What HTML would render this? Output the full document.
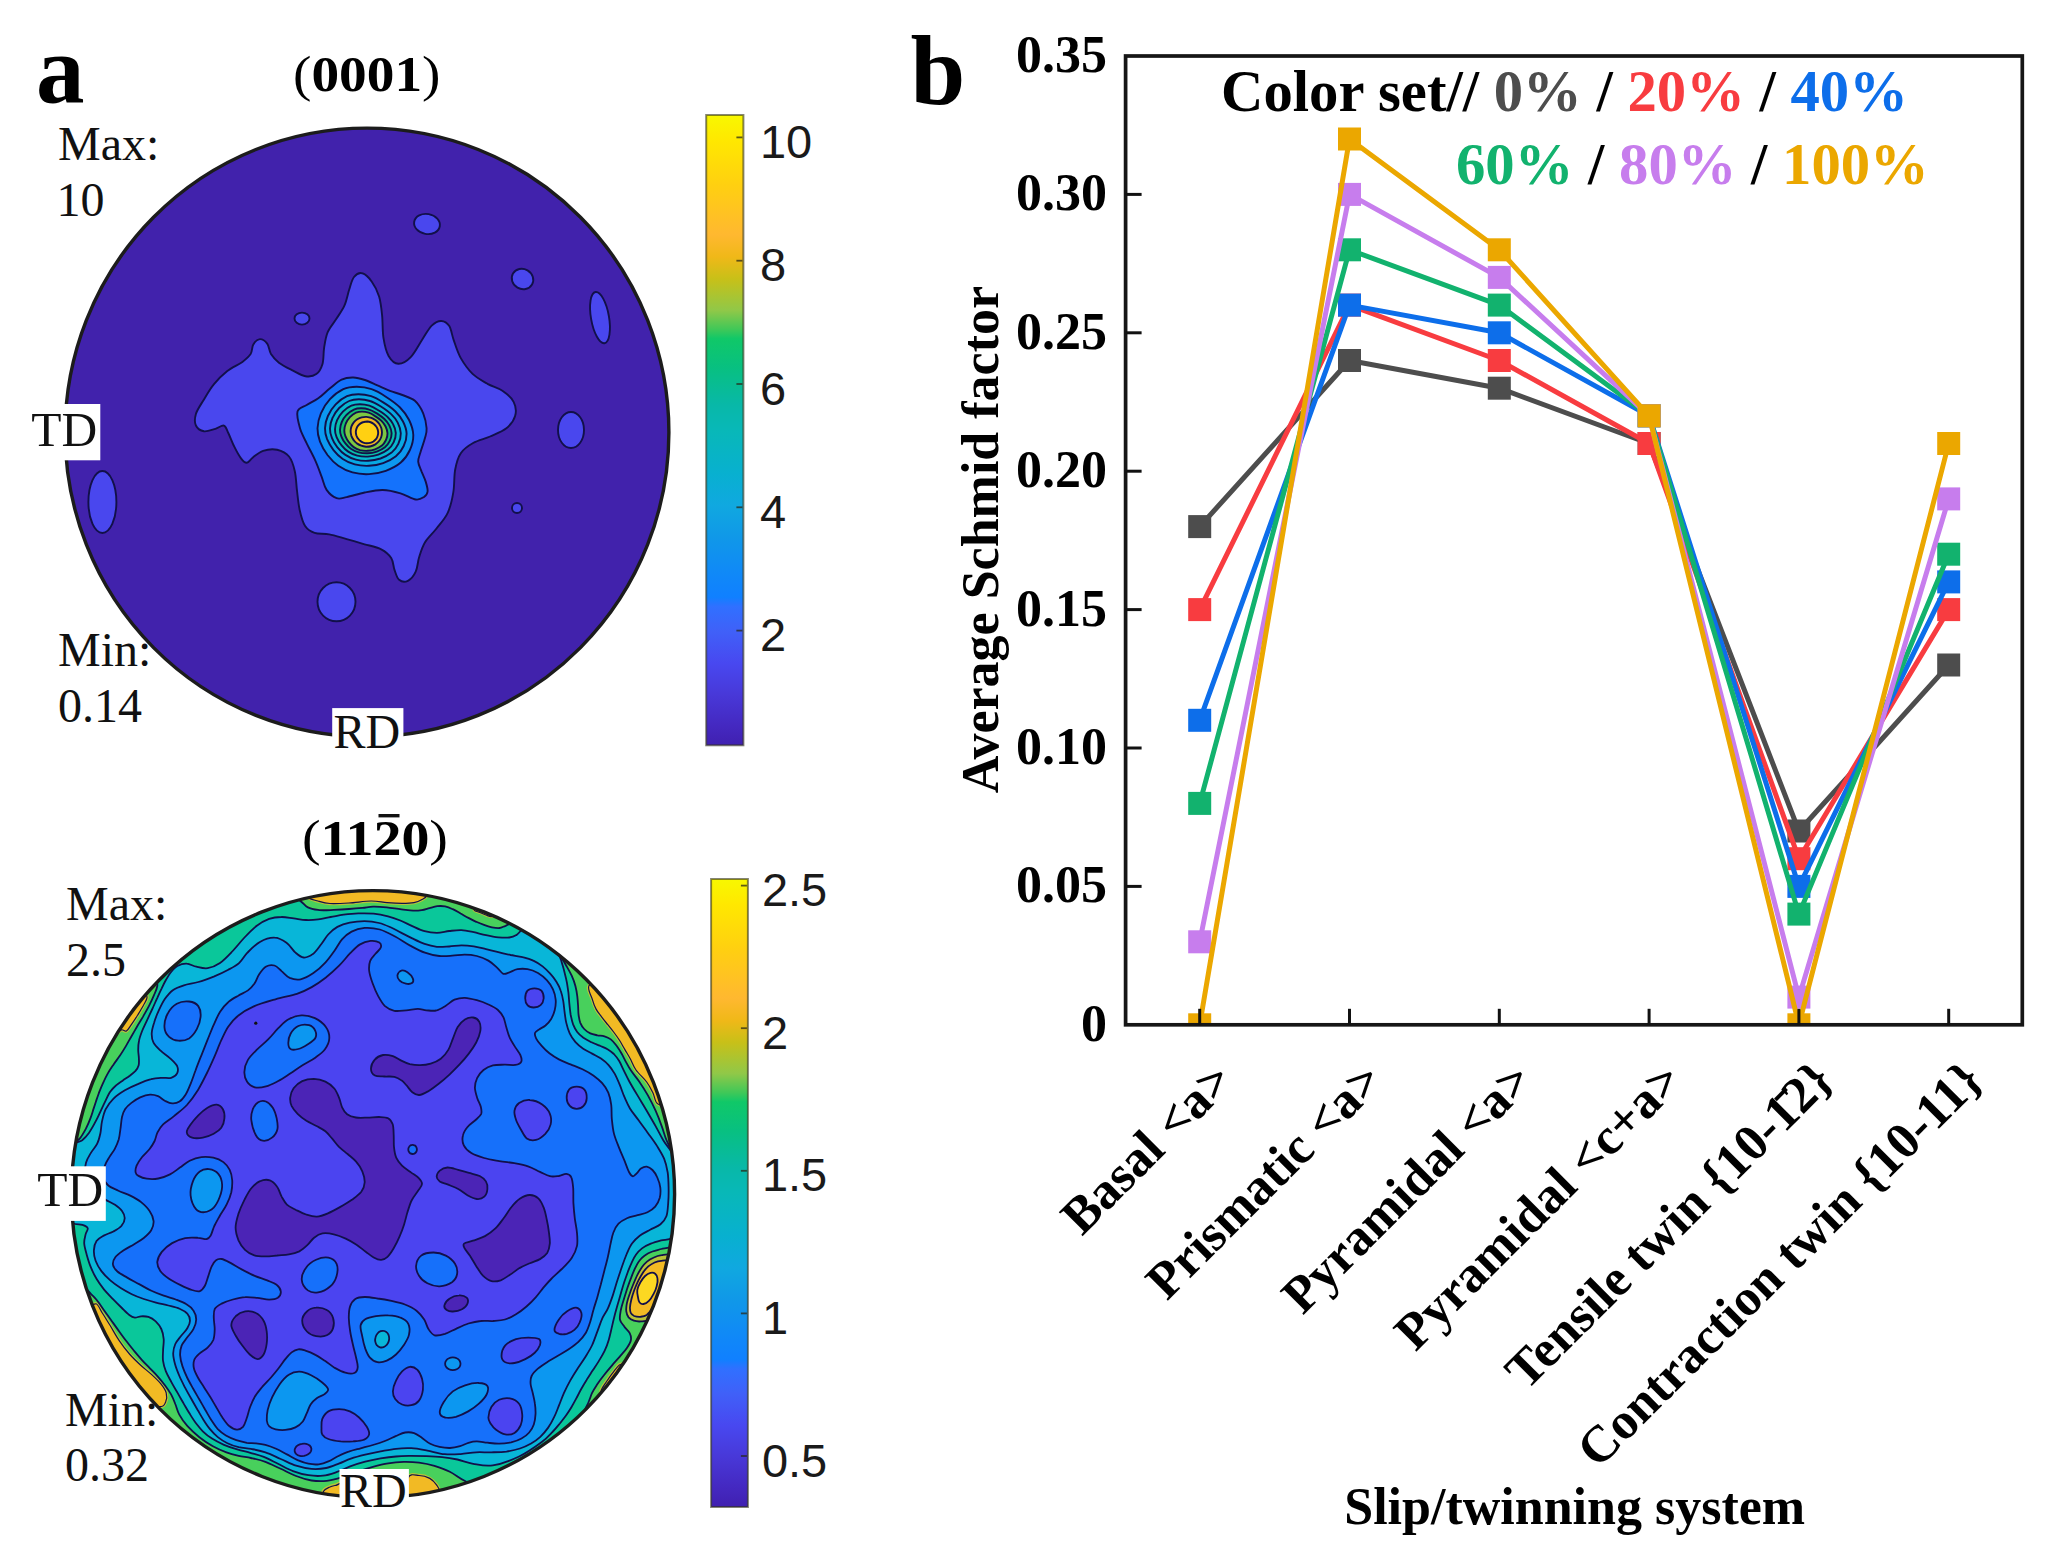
<!DOCTYPE html>
<html><head><meta charset="utf-8"><title>Figure</title>
<style>
html,body{margin:0;padding:0;background:#fff;}
svg{display:block}
.sb{font-family:"Liberation Serif",serif;font-weight:bold;fill:#000}
.sr{font-family:"Liberation Serif",serif;fill:#111}
.ss{font-family:"Liberation Sans",sans-serif;fill:#1a1a1a}
</style></head><body>
<svg width="2056" height="1562" viewBox="0 0 2056 1562">
<defs>
<linearGradient id="par" x1="0" y1="1" x2="0" y2="0">
<stop offset="0.000" stop-color="#4020b0"/>
<stop offset="0.030" stop-color="#4428c0"/>
<stop offset="0.080" stop-color="#4838d8"/>
<stop offset="0.130" stop-color="#4848f0"/>
<stop offset="0.180" stop-color="#4060f8"/>
<stop offset="0.220" stop-color="#3070ff"/>
<stop offset="0.235" stop-color="#1080ff"/>
<stop offset="0.270" stop-color="#1088f8"/>
<stop offset="0.330" stop-color="#1098e8"/>
<stop offset="0.380" stop-color="#10a8e0"/>
<stop offset="0.430" stop-color="#08b0d0"/>
<stop offset="0.500" stop-color="#08b8b8"/>
<stop offset="0.540" stop-color="#08b8a8"/>
<stop offset="0.600" stop-color="#08c080"/>
<stop offset="0.645" stop-color="#10c868"/>
<stop offset="0.660" stop-color="#40c858"/>
<stop offset="0.690" stop-color="#90c848"/>
<stop offset="0.740" stop-color="#c8c018"/>
<stop offset="0.775" stop-color="#f0b818"/>
<stop offset="0.810" stop-color="#ffb830"/>
<stop offset="0.890" stop-color="#ffd010"/>
<stop offset="0.960" stop-color="#ffe800"/>
<stop offset="1.000" stop-color="#f8f800"/>
</linearGradient>
</defs>
<g id="pf1">
<clipPath id="cl1"><ellipse cx="367" cy="432.4" rx="301.9" ry="304.3"/></clipPath>
<ellipse cx="367" cy="432.4" rx="301.9" ry="304.3" fill="#4122ac"/>
<g clip-path="url(#cl1)" stroke="#12104a" stroke-width="1.9" stroke-linejoin="round">
<path d="M362.3,273.3C365.3,274.0 369.0,277.8 371.8,281.7C374.6,285.5 377.4,290.9 379.1,296.6C380.8,302.2 381.4,308.5 382.1,315.4C382.8,322.4 382.4,331.5 383.5,338.2C384.6,345.0 386.1,351.7 388.6,355.9C391.1,360.2 394.7,363.6 398.4,363.8C402.1,363.9 406.7,361.3 410.7,357.1C414.8,353.0 419.1,344.2 422.6,338.9C426.1,333.7 428.6,328.6 431.7,325.6C434.8,322.7 438.3,320.9 441.2,321.0C444.1,321.1 447.2,322.9 449.3,326.1C451.3,329.3 451.8,334.8 453.7,340.1C455.5,345.3 457.4,351.9 460.5,357.6C463.7,363.2 468.1,369.5 472.6,373.9C477.1,378.2 482.6,380.9 487.5,383.8C492.5,386.6 498.1,387.7 502.4,390.7C506.8,393.7 511.5,397.6 513.6,401.8C515.8,406.0 516.4,411.6 515.1,416.0C513.9,420.4 510.6,424.9 506.4,428.3C502.2,431.7 495.7,434.0 490.1,436.5C484.5,438.9 478.0,440.2 473.1,443.0C468.2,445.8 463.7,448.8 460.8,453.2C457.8,457.6 456.4,463.0 455.2,469.5C453.9,476.0 454.6,485.1 453.3,492.4C452.1,499.6 450.6,506.8 447.7,512.8C444.9,518.9 440.1,523.7 436.3,528.7C432.5,533.6 427.8,537.6 424.9,542.4C422.0,547.2 420.6,552.4 419.1,557.3C417.6,562.2 417.6,567.8 415.7,571.7C413.9,575.7 410.7,579.5 407.9,580.8C405.1,582.2 401.3,581.6 399.1,579.8C396.8,578.0 395.8,573.5 394.5,569.9C393.2,566.2 393.4,561.4 391.2,558.0C389.0,554.6 385.6,551.5 381.2,549.3C376.7,547.0 370.4,545.9 364.6,544.3C358.9,542.6 352.6,540.8 346.7,539.1C340.8,537.5 334.6,535.4 329.2,534.4C323.9,533.3 318.6,534.3 314.6,532.9C310.5,531.5 307.6,529.7 305.1,526.0C302.7,522.3 301.1,516.4 299.8,510.5C298.4,504.6 297.8,497.3 297.0,490.7C296.2,484.2 296.1,476.9 294.8,471.2C293.5,465.4 291.9,460.0 289.0,456.5C286.0,452.9 281.4,450.8 277.1,449.8C272.8,448.9 267.1,449.6 263.1,450.9C259.1,452.2 255.6,455.4 252.9,457.4C250.2,459.4 248.8,462.6 246.8,462.8C244.9,463.0 243.3,461.3 241.2,458.6C239.1,455.9 236.4,451.0 234.3,446.7C232.1,442.4 230.0,436.5 228.3,433.0C226.6,429.5 226.1,426.3 223.9,425.6C221.8,424.9 218.7,427.9 215.4,428.8C212.1,429.7 207.2,431.8 204.0,431.3C200.7,430.7 197.3,428.4 195.9,425.5C194.6,422.7 194.7,418.1 195.9,413.9C197.2,409.7 200.5,405.1 203.5,400.2C206.5,395.2 210.0,388.9 214.0,384.1C218.0,379.2 222.5,374.8 227.3,371.0C232.0,367.3 238.5,364.7 242.4,361.9C246.3,359.0 248.7,357.0 250.6,354.1C252.4,351.2 251.8,346.9 253.3,344.4C254.9,341.9 257.5,339.3 259.9,339.1C262.2,339.0 265.3,341.1 267.2,343.6C269.1,346.1 269.1,350.9 271.0,354.1C273.0,357.3 275.4,360.0 278.9,362.7C282.5,365.4 288.0,368.1 292.5,370.4C296.9,372.6 301.5,375.6 305.5,376.2C309.5,376.8 313.5,376.2 316.3,374.1C319.2,372.0 321.2,368.2 322.5,363.9C323.8,359.5 323.3,353.0 324.1,347.8C325.0,342.5 325.6,337.2 327.6,332.4C329.6,327.6 333.4,323.6 336.2,319.1C339.0,314.6 342.3,310.4 344.5,305.4C346.7,300.4 347.7,294.1 349.3,289.3C350.8,284.6 351.8,279.7 354.0,277.0C356.2,274.3 359.3,272.5 362.3,273.3Z" fill="#4947ee"/>
<ellipse cx="427" cy="224" rx="13" ry="10" fill="#4947ee" transform="rotate(10 427 224)"/>
<ellipse cx="522.5" cy="279" rx="11" ry="10" fill="#4947ee" transform="rotate(30 522.5 279)"/>
<ellipse cx="600" cy="317.6" rx="9" ry="26" fill="#4947ee" transform="rotate(-10 600 317.6)"/>
<ellipse cx="571" cy="430" rx="13" ry="18" fill="#4947ee" transform="rotate(0 571 430)"/>
<ellipse cx="102.4" cy="502" rx="14" ry="31" fill="#4947ee" transform="rotate(0 102.4 502)"/>
<ellipse cx="302" cy="318.6" rx="7.5" ry="6" fill="#4947ee" transform="rotate(0 302 318.6)"/>
<ellipse cx="517" cy="508" rx="5" ry="5" fill="#4947ee" transform="rotate(0 517 508)"/>
<ellipse cx="336.5" cy="601.8" rx="19" ry="19.5" fill="#4947ee" transform="rotate(0 336.5 601.8)"/>
<path d="M297.5,411.6C298.6,407.7 303.2,407.2 306.7,405.0C310.2,402.8 314.4,401.1 318.3,398.3C322.2,395.5 326.1,391.4 330.0,388.3C333.9,385.2 337.7,381.4 341.6,379.6C345.5,377.8 349.4,377.4 353.3,377.5C357.2,377.6 360.9,378.7 364.9,380.0C368.9,381.3 373.2,383.6 377.4,385.4C381.6,387.2 385.7,389.2 389.9,390.8C394.1,392.4 398.2,393.3 402.4,395.0C406.6,396.7 411.4,397.8 414.9,400.8C418.4,403.9 421.2,408.7 423.2,413.3C425.1,417.9 426.3,424.1 426.6,428.3C426.9,432.5 425.9,434.4 424.9,438.3C423.9,442.2 421.8,447.7 420.7,451.6C419.6,455.5 418.0,458.3 418.2,461.6C418.4,464.9 420.4,468.3 421.6,471.6C422.9,474.9 424.7,478.3 425.7,481.6C426.7,484.9 427.9,488.9 427.6,491.5C427.3,494.1 426.0,495.7 424.0,497.0C422.0,498.3 419.7,500.1 415.8,499.5C411.9,498.9 406.0,494.9 400.5,493.3C395.0,491.7 388.6,490.1 382.6,490.0C376.6,489.9 370.6,491.3 364.6,492.5C358.6,493.7 351.4,496.2 346.7,497.1C342.0,498.1 340.0,499.4 336.6,498.2C333.2,497.0 329.1,493.5 326.6,489.9C324.1,486.3 323.5,481.6 321.6,476.6C319.7,471.6 317.5,465.4 315.0,459.9C312.5,454.3 309.2,448.6 306.7,443.3C304.2,438.0 301.5,433.6 300.0,428.3C298.5,423.0 296.4,415.5 297.5,411.6Z" fill="#1472fc"/>
<path d="M317.5,428.3C317.7,423.6 318.8,418.2 320.9,413.3C322.9,408.5 326.3,403.2 330.0,399.2C333.8,395.2 338.9,391.3 343.3,389.2C347.8,387.1 351.9,386.7 356.7,386.7C361.4,386.7 366.8,387.5 371.6,389.2C376.5,390.8 381.1,393.6 385.8,396.7C390.5,399.7 396.1,403.6 400.0,407.5C403.8,411.4 406.9,415.4 409.1,420.0C411.3,424.6 413.1,430.0 413.3,435.0C413.4,440.0 412.0,445.4 409.9,450.0C407.9,454.5 404.8,459.0 400.8,462.5C396.8,465.9 391.1,468.8 385.8,470.8C380.5,472.7 374.7,473.8 369.1,474.1C363.6,474.4 357.6,473.8 352.5,472.4C347.4,471.1 342.5,468.7 338.3,465.8C334.2,462.9 330.6,459.0 327.5,455.0C324.5,450.9 321.7,446.1 320.0,441.6C318.4,437.2 317.4,433.0 317.5,428.3Z" fill="#0c98f0"/>
<path d="M325.0,428.3C325.1,424.4 326.1,420.0 327.9,416.0C329.6,412.0 332.5,407.7 335.7,404.4C338.8,401.1 343.2,397.9 347.0,396.2C350.8,394.5 354.3,394.2 358.4,394.2C362.4,394.2 367.0,394.9 371.1,396.2C375.3,397.6 379.2,399.9 383.2,402.4C387.2,404.9 391.9,408.1 395.2,411.2C398.5,414.4 401.1,417.7 403.0,421.5C404.9,425.2 406.5,429.7 406.6,433.8C406.7,437.8 405.5,442.3 403.7,446.0C402.0,449.8 399.4,453.4 395.9,456.3C392.5,459.1 387.7,461.5 383.2,463.1C378.7,464.7 373.7,465.6 369.0,465.8C364.3,466.0 359.2,465.6 354.8,464.4C350.4,463.3 346.3,461.4 342.8,459.0C339.2,456.6 336.1,453.4 333.5,450.1C330.9,446.8 328.6,442.8 327.1,439.2C325.7,435.6 324.9,432.2 325.0,428.3Z" fill="#08a9e2"/>
<path d="M330.0,428.5C330.1,425.2 330.9,421.4 332.5,418.0C334.0,414.5 336.5,410.8 339.2,408.0C342.0,405.2 345.8,402.4 349.1,401.0C352.4,399.5 355.5,399.2 358.9,399.2C362.4,399.2 366.4,399.8 370.0,401.0C373.6,402.1 377.0,404.1 380.5,406.2C384.0,408.4 388.1,411.1 390.9,413.9C393.8,416.6 396.1,419.4 397.7,422.7C399.3,425.9 400.7,429.7 400.8,433.2C400.9,436.7 399.9,440.6 398.3,443.8C396.8,447.0 394.5,450.1 391.6,452.6C388.6,455.0 384.4,457.1 380.5,458.5C376.6,459.8 372.3,460.6 368.2,460.8C364.1,461.0 359.7,460.6 355.9,459.6C352.1,458.7 348.5,457.0 345.4,454.9C342.3,452.9 339.7,450.1 337.4,447.3C335.1,444.5 333.1,441.1 331.9,437.9C330.6,434.8 329.9,431.9 330.0,428.5Z" fill="#08b8d0"/>
<path d="M335.0,429.2C335.1,426.3 335.8,423.1 337.1,420.2C338.4,417.3 340.6,414.1 342.9,411.7C345.3,409.3 348.6,406.9 351.4,405.7C354.2,404.4 356.9,404.2 359.9,404.2C362.8,404.2 366.3,404.7 369.4,405.7C372.4,406.7 375.4,408.4 378.3,410.2C381.3,412.0 384.9,414.3 387.3,416.7C389.8,419.0 391.7,421.4 393.1,424.2C394.6,426.9 395.7,430.2 395.8,433.1C395.9,436.1 395.0,439.4 393.7,442.1C392.4,444.9 390.4,447.5 387.9,449.6C385.3,451.7 381.7,453.4 378.3,454.6C375.0,455.8 371.3,456.4 367.8,456.6C364.3,456.8 360.5,456.4 357.2,455.6C354.0,454.8 350.9,453.4 348.2,451.6C345.6,449.9 343.3,447.5 341.4,445.1C339.4,442.7 337.7,439.8 336.6,437.1C335.5,434.5 334.9,432.0 335.0,429.2Z" fill="#0ac0a8"/>
<path d="M340.0,429.7C340.1,427.3 340.7,424.5 341.8,422.0C342.9,419.5 344.7,416.8 346.7,414.7C348.8,412.7 351.5,410.7 353.9,409.6C356.3,408.5 358.5,408.3 361.1,408.3C363.6,408.3 366.5,408.7 369.2,409.6C371.8,410.4 374.2,411.9 376.8,413.4C379.3,415.0 382.3,417.0 384.4,419.0C386.5,421.0 388.1,423.1 389.3,425.4C390.5,427.8 391.5,430.6 391.6,433.2C391.7,435.7 390.9,438.5 389.8,440.9C388.7,443.2 387.0,445.5 384.9,447.3C382.7,449.1 379.6,450.6 376.8,451.6C373.9,452.6 370.8,453.2 367.8,453.3C364.8,453.4 361.6,453.2 358.8,452.4C356.1,451.7 353.5,450.5 351.2,449.0C349.0,447.5 347.0,445.5 345.4,443.4C343.7,441.4 342.3,438.9 341.4,436.6C340.5,434.3 339.9,432.2 340.0,429.7Z" fill="#14c072"/>
<path d="M344.3,430.3C344.4,428.2 344.9,425.7 345.8,423.5C346.8,421.4 348.3,419.0 349.9,417.2C351.6,415.4 353.9,413.6 356.0,412.7C358.0,411.8 359.8,411.6 362.0,411.6C364.1,411.6 366.5,412.0 368.7,412.7C370.9,413.5 373.0,414.7 375.1,416.1C377.2,417.4 379.7,419.2 381.5,420.9C383.2,422.7 384.6,424.5 385.6,426.5C386.6,428.6 387.4,431.0 387.5,433.3C387.6,435.5 386.9,437.9 386.0,440.0C385.0,442.0 383.7,444.0 381.9,445.6C380.0,447.1 377.5,448.4 375.1,449.3C372.7,450.2 370.1,450.7 367.6,450.8C365.1,450.9 362.4,450.7 360.1,450.1C357.8,449.4 355.6,448.4 353.7,447.1C351.8,445.8 350.2,444.0 348.8,442.2C347.4,440.4 346.2,438.2 345.4,436.2C344.7,434.2 344.2,432.4 344.3,430.3Z" fill="#7cc842"/>
<path d="M382.1,431.8C382.1,433.3 381.8,434.9 381.3,436.4C380.8,437.8 380.0,439.3 379.1,440.5C378.1,441.7 376.9,442.9 375.6,443.8C374.3,444.7 372.7,445.4 371.2,445.9C369.6,446.3 367.9,446.6 366.3,446.6C364.7,446.6 363.0,446.3 361.4,445.9C359.9,445.4 358.3,444.7 357.0,443.8C355.7,442.9 354.5,441.7 353.5,440.5C352.6,439.3 351.8,437.8 351.3,436.4C350.8,434.9 350.5,433.3 350.5,431.8C350.5,430.3 350.8,428.7 351.3,427.2C351.8,425.8 352.6,424.3 353.5,423.1C354.5,421.9 355.7,420.7 357.0,419.8C358.3,418.9 359.9,418.2 361.4,417.7C363.0,417.3 364.7,417.0 366.3,417.0C367.9,417.0 369.6,417.3 371.2,417.7C372.7,418.2 374.3,418.9 375.6,419.8C376.9,420.7 378.1,421.9 379.1,423.1C380.0,424.3 380.8,425.8 381.3,427.2C381.8,428.7 382.1,430.3 382.1,431.8Z" fill="#f0b822" transform="rotate(20 366.3 431.8)"/>
<path d="M378.2,432.4C378.2,433.5 378.0,434.7 377.7,435.7C377.3,436.8 376.7,437.8 376.1,438.7C375.4,439.6 374.5,440.5 373.6,441.1C372.6,441.8 371.6,442.3 370.5,442.7C369.4,443.0 368.2,443.2 367.0,443.2C365.8,443.2 364.6,443.0 363.5,442.7C362.4,442.3 361.4,441.8 360.4,441.1C359.5,440.5 358.6,439.6 357.9,438.7C357.3,437.8 356.7,436.8 356.3,435.7C356.0,434.7 355.8,433.5 355.8,432.4C355.8,431.3 356.0,430.1 356.3,429.1C356.7,428.0 357.3,427.0 357.9,426.1C358.6,425.2 359.5,424.3 360.4,423.7C361.4,423.0 362.4,422.5 363.5,422.1C364.6,421.8 365.8,421.6 367.0,421.6C368.2,421.6 369.4,421.8 370.5,422.1C371.6,422.5 372.6,423.0 373.6,423.7C374.5,424.3 375.4,425.2 376.1,426.1C376.7,427.0 377.3,428.0 377.7,429.1C378.0,430.1 378.2,431.3 378.2,432.4Z" fill="#ffd012" transform="rotate(20 367 432.4)"/>
</g>
<ellipse cx="367" cy="432.4" rx="301.9" ry="304.3" fill="none" stroke="#1c1c1c" stroke-width="3.4"/>
<rect x="25" y="404" width="75.3" height="56.3" fill="#fff"/>
<rect x="332.2" y="708.1" width="71.2" height="48" fill="#fff"/>
</g>
<rect x="706.2" y="115" width="37.2" height="630.3" fill="url(#par)" stroke="#33331a" stroke-opacity="0.6" stroke-width="2"/>
<line x1="736.4" y1="137.4" x2="742.4" y2="137.4" stroke="#2a2a18" stroke-opacity="0.75" stroke-width="1.8"/>
<text class="ss" x="759.9" y="157.9" font-size="47">10</text>
<line x1="736.4" y1="260.7" x2="742.4" y2="260.7" stroke="#2a2a18" stroke-opacity="0.75" stroke-width="1.8"/>
<text class="ss" x="759.9" y="281.2" font-size="47">8</text>
<line x1="736.4" y1="384" x2="742.4" y2="384" stroke="#2a2a18" stroke-opacity="0.75" stroke-width="1.8"/>
<text class="ss" x="759.9" y="404.5" font-size="47">6</text>
<line x1="736.4" y1="507.3" x2="742.4" y2="507.3" stroke="#2a2a18" stroke-opacity="0.75" stroke-width="1.8"/>
<text class="ss" x="759.9" y="527.8" font-size="47">4</text>
<line x1="736.4" y1="630.6" x2="742.4" y2="630.6" stroke="#2a2a18" stroke-opacity="0.75" stroke-width="1.8"/>
<text class="ss" x="759.9" y="651.1" font-size="47">2</text>
<g id="pf2">
<clipPath id="cl2"><ellipse cx="373" cy="1194.2" rx="301.6" ry="303.6"/></clipPath>
<ellipse cx="373" cy="1194.2" rx="301.6" ry="303.6" fill="#48d05c"/>
<g clip-path="url(#cl2)" stroke="#12104a" stroke-width="1.8" stroke-linejoin="round">
<path d="M147.0,996.7C147.6,999.1 144.7,1002.6 143.2,1005.7C141.6,1008.7 139.6,1011.9 137.7,1015.0C135.8,1018.1 133.4,1021.7 131.5,1024.4C129.6,1027.0 128.1,1030.1 126.4,1031.0C124.7,1031.9 123.5,1029.2 121.4,1029.8C119.2,1030.4 113.1,1037.8 113.6,1034.5C114.1,1031.1 120.1,1016.7 124.5,1009.6C128.9,1002.4 136.3,993.8 140.0,991.7C143.8,989.5 146.5,994.4 147.0,996.7Z" fill="#f2ba24" stroke="#b8c238" stroke-width="3.4"/>
<path d="M147.0,996.7C147.6,999.1 144.7,1002.6 143.2,1005.7C141.6,1008.7 139.6,1011.9 137.7,1015.0C135.8,1018.1 133.4,1021.7 131.5,1024.4C129.6,1027.0 128.1,1030.1 126.4,1031.0C124.7,1031.9 123.5,1029.2 121.4,1029.8C119.2,1030.4 113.1,1037.8 113.6,1034.5C114.1,1031.1 120.1,1016.7 124.5,1009.6C128.9,1002.4 136.3,993.8 140.0,991.7C143.8,989.5 146.5,994.4 147.0,996.7Z" fill="#f2ba24" stroke-width="1.2"/>
<path d="M306.0,896.0C309.0,899.5 314.0,899.8 318.0,901.0C322.0,902.2 324.8,903.2 330.0,903.5C335.2,903.8 342.2,903.4 349.0,903.0C355.8,902.6 364.7,901.1 371.0,901.0C377.3,900.9 381.8,902.2 387.0,902.6C392.2,903.0 397.5,903.3 402.0,903.3C406.5,903.3 410.7,903.2 414.0,902.6C417.3,902.0 419.8,900.8 422.0,899.5C424.2,898.2 425.7,898.2 427.0,895.0C428.3,891.8 451.2,882.5 430.0,880.0C408.8,877.5 320.7,877.3 300.0,880.0C279.3,882.7 303.0,892.5 306.0,896.0Z" fill="#f2ba24" stroke="#b8c238" stroke-width="3.4"/>
<path d="M306.0,896.0C309.0,899.5 314.0,899.8 318.0,901.0C322.0,902.2 324.8,903.2 330.0,903.5C335.2,903.8 342.2,903.4 349.0,903.0C355.8,902.6 364.7,901.1 371.0,901.0C377.3,900.9 381.8,902.2 387.0,902.6C392.2,903.0 397.5,903.3 402.0,903.3C406.5,903.3 410.7,903.2 414.0,902.6C417.3,902.0 419.8,900.8 422.0,899.5C424.2,898.2 425.7,898.2 427.0,895.0C428.3,891.8 451.2,882.5 430.0,880.0C408.8,877.5 320.7,877.3 300.0,880.0C279.3,882.7 303.0,892.5 306.0,896.0Z" fill="#f2ba24" stroke-width="1.2"/>
<path d="M474.0,909.0C473.2,911.1 478.0,911.5 480.0,912.5C482.0,913.5 484.0,914.3 486.0,915.0C488.0,915.7 490.0,917.0 492.0,916.5C494.0,916.0 499.2,914.8 498.0,912.0C496.8,909.2 489.0,900.5 485.0,900.0C481.0,899.5 474.8,906.9 474.0,909.0Z" fill="#f2ba24" stroke="#b8c238" stroke-width="3"/>
<path d="M474.0,909.0C473.2,911.1 478.0,911.5 480.0,912.5C482.0,913.5 484.0,914.3 486.0,915.0C488.0,915.7 490.0,917.0 492.0,916.5C494.0,916.0 499.2,914.8 498.0,912.0C496.8,909.2 489.0,900.5 485.0,900.0C481.0,899.5 474.8,906.9 474.0,909.0Z" fill="#f2ba24" stroke-width="1.2"/>
<path d="M589.5,985.0C586.2,987.5 591.4,995.8 592.5,999.8C593.6,1003.8 594.6,1006.2 596.1,1009.1C597.6,1012.0 599.7,1014.3 601.6,1016.9C603.5,1019.5 605.7,1022.1 607.8,1024.7C609.9,1027.3 612.0,1029.9 614.0,1032.5C616.0,1035.1 617.7,1037.5 619.5,1040.3C621.3,1043.1 623.1,1046.5 624.9,1049.6C626.7,1052.7 628.5,1055.6 630.4,1059.0C632.2,1062.4 633.3,1066.2 636.0,1070.0C638.7,1073.8 643.9,1078.2 646.7,1082.0C649.5,1085.8 651.1,1089.3 653.0,1093.0C654.9,1096.7 654.8,1102.8 658.0,1104.0C661.2,1105.2 673.8,1112.3 672.0,1100.0C670.2,1087.7 657.0,1049.2 647.0,1030.0C637.0,1010.8 621.6,992.5 612.0,985.0C602.4,977.5 592.8,982.5 589.5,985.0Z" fill="#f2ba24" stroke="#b8c238" stroke-width="3.4"/>
<path d="M589.5,985.0C586.2,987.5 591.4,995.8 592.5,999.8C593.6,1003.8 594.6,1006.2 596.1,1009.1C597.6,1012.0 599.7,1014.3 601.6,1016.9C603.5,1019.5 605.7,1022.1 607.8,1024.7C609.9,1027.3 612.0,1029.9 614.0,1032.5C616.0,1035.1 617.7,1037.5 619.5,1040.3C621.3,1043.1 623.1,1046.5 624.9,1049.6C626.7,1052.7 628.5,1055.6 630.4,1059.0C632.2,1062.4 633.3,1066.2 636.0,1070.0C638.7,1073.8 643.9,1078.2 646.7,1082.0C649.5,1085.8 651.1,1089.3 653.0,1093.0C654.9,1096.7 654.8,1102.8 658.0,1104.0C661.2,1105.2 673.8,1112.3 672.0,1100.0C670.2,1087.7 657.0,1049.2 647.0,1030.0C637.0,1010.8 621.6,992.5 612.0,985.0C602.4,977.5 592.8,982.5 589.5,985.0Z" fill="#f2ba24" stroke-width="1.2"/>
<path d="M619.8,1364.7C617.6,1365.8 615.0,1370.1 612.8,1372.9C610.6,1375.7 608.6,1378.6 606.6,1381.5C604.7,1384.4 601.7,1388.2 601.2,1390.4C600.6,1392.6 600.9,1396.1 603.5,1394.7C606.1,1393.3 613.0,1386.9 616.7,1382.3C620.5,1377.6 625.6,1369.6 626.1,1366.7C626.6,1363.8 622.0,1363.7 619.8,1364.7Z" fill="#f2ba24" stroke="#b8c238" stroke-width="3.6"/>
<path d="M619.8,1364.7C617.6,1365.8 615.0,1370.1 612.8,1372.9C610.6,1375.7 608.6,1378.6 606.6,1381.5C604.7,1384.4 601.7,1388.2 601.2,1390.4C600.6,1392.6 600.9,1396.1 603.5,1394.7C606.1,1393.3 613.0,1386.9 616.7,1382.3C620.5,1377.6 625.6,1369.6 626.1,1366.7C626.6,1363.8 622.0,1363.7 619.8,1364.7Z" fill="#f2ba24" stroke-width="1.2"/>
<path d="M408.3,1477.8C410.1,1472.8 415.4,1475.4 419.0,1475.5C422.6,1475.6 426.8,1476.8 429.8,1478.4C432.7,1480.0 435.1,1482.9 436.7,1485.1C438.3,1487.4 439.7,1488.7 439.3,1492.1C438.9,1495.4 439.6,1502.9 434.4,1505.1C429.2,1507.3 412.6,1509.7 408.3,1505.1C403.9,1500.6 406.5,1482.7 408.3,1477.8Z" fill="#f2ba24" stroke="#b8c238" stroke-width="3.4"/>
<path d="M408.3,1477.8C410.1,1472.8 415.4,1475.4 419.0,1475.5C422.6,1475.6 426.8,1476.8 429.8,1478.4C432.7,1480.0 435.1,1482.9 436.7,1485.1C438.3,1487.4 439.7,1488.7 439.3,1492.1C438.9,1495.4 439.6,1502.9 434.4,1505.1C429.2,1507.3 412.6,1509.7 408.3,1505.1C403.9,1500.6 406.5,1482.7 408.3,1477.8Z" fill="#f2ba24" stroke-width="1.2"/>
<path d="M323.4,1491.6C324.7,1488.6 327.8,1488.0 329.9,1487.0C332.0,1485.9 334.0,1485.7 336.0,1485.3C338.1,1484.9 341.2,1481.5 342.2,1484.8C343.2,1488.1 345.5,1501.7 342.2,1505.1C338.9,1508.5 325.3,1507.4 322.2,1505.1C319.1,1502.9 322.2,1494.6 323.4,1491.6Z" fill="#f2ba24" stroke="#b8c238" stroke-width="4"/>
<path d="M323.4,1491.6C324.7,1488.6 327.8,1488.0 329.9,1487.0C332.0,1485.9 334.0,1485.7 336.0,1485.3C338.1,1484.9 341.2,1481.5 342.2,1484.8C343.2,1488.1 345.5,1501.7 342.2,1505.1C338.9,1508.5 325.3,1507.4 322.2,1505.1C319.1,1502.9 322.2,1494.6 323.4,1491.6Z" fill="#f2ba24" stroke-width="1.2"/>
<path d="M95.4,1303.8C98.2,1303.2 99.8,1309.4 102.3,1313.0C104.7,1316.6 107.1,1320.7 110.0,1325.3C112.8,1329.9 115.8,1335.8 119.2,1340.6C122.5,1345.5 126.3,1350.4 129.9,1354.5C133.5,1358.6 137.1,1361.9 140.7,1365.2C144.3,1368.5 148.1,1371.4 151.4,1374.4C154.8,1377.5 158.2,1380.6 160.7,1383.7C163.1,1386.7 165.4,1389.8 166.2,1392.9C167.0,1395.9 166.6,1399.8 165.6,1402.1C164.5,1404.4 164.3,1406.7 159.9,1406.7C155.5,1406.7 147.7,1409.8 139.1,1402.1C130.6,1394.4 117.4,1374.9 108.4,1360.6C99.5,1346.3 87.5,1325.5 85.4,1316.0C83.2,1306.6 92.5,1304.3 95.4,1303.8Z" fill="#f2ba24" stroke="#b8c238" stroke-width="3.4"/>
<path d="M95.4,1303.8C98.2,1303.2 99.8,1309.4 102.3,1313.0C104.7,1316.6 107.1,1320.7 110.0,1325.3C112.8,1329.9 115.8,1335.8 119.2,1340.6C122.5,1345.5 126.3,1350.4 129.9,1354.5C133.5,1358.6 137.1,1361.9 140.7,1365.2C144.3,1368.5 148.1,1371.4 151.4,1374.4C154.8,1377.5 158.2,1380.6 160.7,1383.7C163.1,1386.7 165.4,1389.8 166.2,1392.9C167.0,1395.9 166.6,1399.8 165.6,1402.1C164.5,1404.4 164.3,1406.7 159.9,1406.7C155.5,1406.7 147.7,1409.8 139.1,1402.1C130.6,1394.4 117.4,1374.9 108.4,1360.6C99.5,1346.3 87.5,1325.5 85.4,1316.0C83.2,1306.6 92.5,1304.3 95.4,1303.8Z" fill="#f2ba24" stroke-width="1.2"/>
<path d="M670.4,1255.0C668.1,1253.4 664.4,1254.7 661.6,1255.2C658.7,1255.6 655.8,1256.6 653.4,1257.7C650.9,1258.8 648.9,1260.0 647.0,1261.6C645.1,1263.2 643.5,1265.0 641.9,1267.2C640.4,1269.4 638.9,1272.0 637.4,1274.8C636.0,1277.6 634.7,1280.8 633.4,1284.0C632.1,1287.1 630.7,1290.6 629.7,1293.8C628.6,1296.9 627.5,1300.2 626.9,1303.1C626.3,1306.0 626.0,1308.9 626.3,1311.3C626.6,1313.7 627.4,1315.8 628.6,1317.4C629.9,1318.9 631.8,1320.0 633.9,1320.7C636.0,1321.4 638.7,1321.6 641.2,1321.4C643.7,1321.3 646.1,1321.5 648.9,1319.9C651.8,1318.3 654.9,1317.0 658.4,1311.9C662.0,1306.8 667.4,1297.1 670.2,1289.2C673.1,1281.3 675.4,1270.3 675.4,1264.6C675.5,1258.9 672.7,1256.6 670.4,1255.0Z" fill="#b8c238" />
<path d="M668.1,1261.2C666.5,1259.8 663.6,1260.6 661.4,1260.8C659.2,1261.0 656.7,1261.6 654.6,1262.5C652.4,1263.5 650.3,1264.7 648.3,1266.4C646.4,1268.1 644.6,1270.2 642.9,1272.7C641.2,1275.1 639.7,1278.0 638.2,1280.9C636.8,1283.8 635.5,1287.0 634.3,1290.0C633.2,1293.1 632.1,1296.3 631.4,1299.2C630.7,1302.1 630.1,1305.0 630.0,1307.3C629.9,1309.5 630.1,1311.4 630.8,1312.9C631.5,1314.3 632.6,1315.3 634.2,1316.0C635.8,1316.6 638.3,1316.9 640.4,1316.8C642.5,1316.6 644.5,1316.5 646.7,1314.9C648.9,1313.2 650.5,1311.4 653.3,1307.0C656.2,1302.7 660.8,1295.1 663.7,1288.7C666.5,1282.3 669.9,1273.3 670.6,1268.7C671.3,1264.1 669.6,1262.5 668.1,1261.2Z" fill="#f2ba24" />
<path d="M638.1,1297.8C637.7,1295.7 636.9,1292.6 637.3,1290.0C637.7,1287.4 639.1,1284.6 640.4,1282.3C641.7,1279.9 643.4,1277.6 645.1,1276.0C646.7,1274.5 648.8,1273.3 650.5,1272.9C652.2,1272.5 654.0,1272.8 655.2,1273.7C656.3,1274.6 657.3,1276.3 657.5,1278.4C657.8,1280.4 657.4,1283.6 656.7,1286.1C656.1,1288.7 654.9,1291.5 653.6,1293.9C652.3,1296.4 650.6,1299.2 648.9,1300.9C647.3,1302.6 645.1,1303.8 643.5,1304.0C641.9,1304.3 640.5,1303.5 639.6,1302.5C638.7,1301.5 638.4,1299.9 638.1,1297.8Z" fill="#fcd822" />
<path d="M250.9,1458.0C246.5,1457.0 242.8,1456.8 238.7,1455.8C234.6,1454.9 230.7,1454.0 226.4,1452.4C222.1,1450.8 217.4,1448.8 212.9,1446.3C208.4,1443.8 203.7,1440.6 199.4,1437.2C195.2,1433.9 190.8,1429.9 187.5,1426.2C184.1,1422.4 181.3,1418.3 179.3,1414.6C177.2,1410.9 176.7,1407.3 175.3,1404.0C174.0,1400.6 172.8,1397.5 171.1,1394.4C169.3,1391.3 167.2,1388.2 164.9,1385.2C162.7,1382.2 160.1,1379.1 157.6,1376.3C155.1,1373.5 152.5,1371.0 149.9,1368.3C147.3,1365.6 144.8,1363.1 142.2,1360.3C139.7,1357.5 137.1,1354.5 134.5,1351.4C132.0,1348.3 129.4,1345.2 126.9,1341.8C124.3,1338.5 121.7,1334.9 119.2,1331.4C116.6,1327.9 114.0,1324.2 111.5,1320.7C108.9,1317.1 106.3,1313.4 103.8,1309.9C101.3,1306.4 98.8,1302.7 96.5,1299.8C94.1,1296.9 92.3,1295.6 89.8,1292.6C87.3,1289.6 84.5,1288.1 81.2,1281.8C77.8,1275.4 72.9,1264.8 69.7,1254.7C66.5,1244.6 63.8,1232.8 62.2,1221.2C60.6,1209.7 59.7,1196.1 60.2,1185.2C60.6,1174.3 62.6,1162.7 64.9,1155.8C67.3,1148.9 71.5,1146.8 74.1,1143.8C76.7,1140.8 78.5,1140.1 80.5,1137.6C82.4,1135.1 84.1,1132.0 85.8,1128.9C87.4,1125.7 89.1,1121.9 90.4,1118.4C91.7,1115.0 92.7,1111.4 93.7,1108.4C94.7,1105.3 95.5,1102.8 96.4,1100.1C97.3,1097.4 98.1,1095.2 99.1,1092.4C100.2,1089.6 101.4,1086.5 102.9,1083.3C104.3,1080.2 105.9,1076.7 107.7,1073.6C109.5,1070.4 111.6,1067.4 113.6,1064.4C115.6,1061.4 117.8,1058.8 119.8,1055.8C121.9,1052.7 123.9,1049.4 125.9,1046.1C127.8,1042.9 129.6,1039.5 131.5,1036.2C133.4,1032.9 135.2,1029.8 137.1,1026.5C139.0,1023.2 141.2,1019.8 143.2,1016.4C145.1,1013.0 147.2,1009.4 149.0,1005.9C150.8,1002.4 152.5,998.7 153.9,995.4C155.3,992.1 156.8,989.2 157.3,986.0C157.8,982.8 155.9,982.2 156.8,976.2C157.8,970.2 154.7,961.4 163.0,950.1C171.3,938.8 189.4,918.5 206.6,908.4C223.8,898.2 251.5,890.8 266.4,889.1C281.4,887.5 289.4,895.3 296.3,898.3C303.2,901.3 304.0,905.5 307.9,907.4C311.7,909.4 315.0,909.6 319.3,910.1C323.6,910.5 328.7,910.1 333.7,909.9C338.6,909.7 344.2,909.4 349.0,909.0C353.8,908.7 358.5,908.3 362.5,907.9C366.5,907.5 369.0,906.7 373.1,906.6C377.1,906.5 382.0,906.9 386.7,907.4C391.4,907.9 397.0,908.9 401.4,909.4C405.8,909.9 409.7,910.6 413.1,910.7C416.4,910.8 419.0,910.6 421.7,910.2C424.4,909.8 426.9,908.8 429.5,908.1C432.1,907.4 434.7,906.5 437.3,906.2C439.9,905.9 442.5,905.9 445.1,906.4C447.7,906.9 450.2,908.0 452.8,909.2C455.4,910.3 458.0,912.0 460.6,913.5C463.2,914.9 465.8,916.6 468.4,917.9C471.0,919.3 473.6,920.7 476.2,921.8C478.8,923.0 481.4,924.0 484.0,924.9C486.6,925.9 489.3,926.8 491.9,927.3C494.5,927.8 497.2,928.3 499.5,928.0C501.8,927.8 503.2,926.6 505.6,925.8C508.0,924.9 509.6,922.9 514.0,922.9C518.3,922.9 525.6,923.1 531.6,926.0C537.5,928.8 544.8,935.1 549.6,940.0C554.4,945.0 557.5,951.4 560.3,955.8C563.1,960.2 564.7,962.8 566.6,966.2C568.5,969.5 570.2,972.4 571.7,975.7C573.2,979.0 574.5,982.5 575.4,986.0C576.3,989.4 576.9,993.0 577.3,996.4C577.7,999.7 577.9,1002.9 578.1,1006.0C578.3,1009.1 578.2,1012.2 578.6,1015.0C579.0,1017.8 579.4,1020.5 580.3,1022.8C581.3,1025.1 582.6,1027.3 584.2,1029.0C585.9,1030.8 588.0,1032.3 590.3,1033.4C592.5,1034.4 595.2,1034.8 597.5,1035.3C599.9,1035.7 602.3,1035.6 604.5,1036.3C606.7,1037.0 608.8,1037.9 610.8,1039.4C612.7,1040.9 614.6,1043.1 616.4,1045.5C618.2,1047.8 620.0,1050.9 621.7,1053.7C623.3,1056.5 624.6,1059.5 626.2,1062.4C627.7,1065.2 628.9,1067.5 631.0,1070.6C633.1,1073.8 636.1,1077.1 639.0,1081.2C641.8,1085.3 645.1,1090.4 647.9,1095.4C650.6,1100.3 653.3,1105.6 655.6,1110.7C657.9,1115.9 659.9,1121.1 661.7,1126.1C663.6,1131.1 664.8,1136.3 666.7,1140.6C668.5,1144.9 670.1,1147.6 672.6,1152.0C675.1,1156.4 679.2,1159.3 681.8,1167.3C684.5,1175.3 688.1,1189.1 688.5,1200.0C688.8,1210.9 686.7,1225.1 684.0,1232.8C681.2,1240.5 675.8,1243.3 672.0,1246.0C668.3,1248.7 664.7,1248.1 661.4,1249.0C658.1,1249.9 655.2,1250.4 652.4,1251.5C649.6,1252.5 647.0,1253.8 644.8,1255.4C642.6,1256.9 640.8,1258.8 639.2,1261.0C637.5,1263.2 636.3,1265.8 634.9,1268.6C633.6,1271.4 632.3,1274.6 631.1,1277.9C629.8,1281.2 628.5,1284.8 627.3,1288.3C626.2,1291.8 625.1,1295.2 624.0,1298.8C623.0,1302.3 621.6,1306.2 620.9,1309.7C620.3,1313.2 619.4,1316.9 620.0,1319.7C620.6,1322.5 622.8,1324.4 624.4,1326.7C626.0,1328.9 628.6,1330.8 629.7,1333.1C630.8,1335.3 631.4,1337.5 630.9,1340.0C630.5,1342.5 628.8,1345.2 626.9,1348.0C625.1,1350.8 622.3,1353.7 619.8,1356.6C617.4,1359.5 614.6,1362.3 612.1,1365.3C609.5,1368.3 606.9,1371.4 604.5,1374.5C602.0,1377.6 599.7,1380.7 597.6,1383.8C595.6,1386.9 594.1,1388.9 592.1,1392.9C590.1,1396.9 590.1,1400.1 585.7,1408.0C581.4,1416.0 576.2,1429.4 566.1,1440.7C556.0,1452.1 538.0,1467.9 524.9,1476.1C511.7,1484.2 497.0,1488.9 487.1,1489.7C477.2,1490.6 471.7,1484.3 465.5,1481.3C459.2,1478.3 454.9,1474.2 449.8,1471.7C444.6,1469.1 439.5,1467.4 434.4,1465.8C429.3,1464.3 424.1,1463.3 419.0,1462.6C413.9,1461.9 408.8,1461.7 403.7,1461.8C398.5,1462.0 393.4,1462.5 388.3,1463.4C383.2,1464.2 378.0,1465.5 372.9,1466.9C367.8,1468.3 362.7,1469.9 357.6,1471.7C352.4,1473.4 347.3,1475.6 342.2,1477.1C337.1,1478.7 332.0,1480.3 326.8,1480.9C321.7,1481.4 316.6,1481.3 311.5,1480.5C306.3,1479.6 301.2,1478.0 296.1,1476.0C291.0,1474.1 285.9,1471.2 280.7,1468.8C275.6,1466.5 270.3,1463.6 265.4,1461.8C260.4,1460.0 255.4,1459.0 250.9,1458.0Z" fill="#0ac79a" />
<path d="M250.3,1452.8C245.8,1451.6 241.6,1450.7 237.2,1449.4C232.8,1448.1 228.2,1446.6 224.0,1444.8C219.8,1443.0 215.6,1440.9 212.0,1438.6C208.5,1436.4 205.5,1433.9 202.8,1431.3C200.1,1428.7 198.2,1426.1 196.0,1423.3C193.8,1420.4 191.9,1417.3 189.9,1414.1C187.8,1410.8 185.8,1407.2 183.7,1403.6C181.7,1400.1 179.6,1396.5 177.6,1392.9C175.5,1389.3 173.3,1385.7 171.4,1382.1C169.5,1378.5 167.3,1374.9 165.9,1371.4C164.5,1367.8 163.5,1364.2 163.0,1360.6C162.6,1357.0 163.0,1353.4 163.1,1349.9C163.2,1346.3 164.0,1342.6 163.7,1339.1C163.4,1335.6 162.7,1332.0 161.3,1329.0C160.0,1326.1 157.9,1323.4 155.7,1321.3C153.5,1319.3 150.8,1317.7 148.4,1316.9C145.9,1316.1 143.3,1316.2 141.0,1316.3C138.8,1316.4 136.8,1317.8 134.9,1317.6C132.9,1317.4 131.4,1316.6 129.3,1315.0C127.1,1313.4 124.6,1310.7 121.9,1308.0C119.2,1305.4 116.0,1302.2 113.0,1299.1C110.1,1296.1 106.9,1293.0 104.1,1289.6C101.4,1286.2 98.7,1282.6 96.5,1278.8C94.2,1275.0 92.3,1270.9 90.7,1266.9C89.0,1262.9 87.8,1258.6 86.7,1254.7C85.7,1250.8 84.4,1246.8 84.2,1243.4C84.0,1240.0 85.0,1236.9 85.6,1234.4C86.2,1231.8 88.2,1229.8 87.7,1228.2C87.2,1226.6 84.9,1225.6 82.4,1224.8C79.9,1224.0 75.6,1225.0 72.6,1223.3C69.6,1221.5 66.3,1220.9 64.4,1214.5C62.5,1208.0 61.2,1194.6 61.4,1184.5C61.5,1174.4 63.2,1160.8 65.4,1154.0C67.7,1147.2 72.1,1146.0 74.9,1143.7C77.7,1141.4 79.9,1141.9 82.2,1140.2C84.5,1138.4 86.5,1136.3 88.9,1133.0C91.2,1129.7 93.7,1125.2 96.3,1120.2C98.9,1115.2 102.0,1107.9 104.4,1103.1C106.7,1098.4 108.2,1094.8 110.2,1091.8C112.2,1088.9 114.0,1087.3 116.1,1085.4C118.2,1083.5 120.6,1082.0 122.9,1080.4C125.2,1078.8 127.7,1077.3 129.8,1075.7C131.8,1074.1 134.0,1072.6 135.5,1070.9C136.9,1069.2 138.0,1067.5 138.6,1065.4C139.2,1063.4 139.0,1061.3 138.9,1058.7C138.9,1056.1 138.2,1053.0 138.2,1050.0C138.2,1047.0 138.3,1043.9 139.0,1040.7C139.6,1037.5 140.8,1034.4 142.1,1031.0C143.5,1027.6 145.3,1024.0 147.0,1020.3C148.7,1016.6 150.6,1012.7 152.3,1009.0C154.0,1005.3 155.6,1001.5 157.2,998.1C158.7,994.6 160.2,991.3 161.7,988.3C163.1,985.3 164.4,982.7 165.9,980.0C167.5,977.4 168.8,974.8 170.7,972.5C172.6,970.1 174.7,967.5 177.4,966.0C180.1,964.6 183.6,963.5 186.8,963.7C190.0,963.8 192.9,966.0 196.4,966.7C199.9,967.5 203.7,968.8 207.7,968.2C211.6,967.6 215.9,965.8 220.0,963.0C224.0,960.2 228.1,955.8 232.2,951.5C236.3,947.3 240.4,941.8 244.5,937.5C248.6,933.2 252.7,928.9 256.8,925.7C260.9,922.6 265.0,920.3 269.1,918.8C273.2,917.4 277.3,917.0 281.4,917.0C285.5,916.9 289.6,917.9 293.7,918.4C297.8,918.9 301.9,919.9 306.0,920.0C310.1,920.2 314.2,919.9 318.3,919.4C322.4,918.9 326.4,917.8 330.6,917.0C334.8,916.3 338.9,915.4 343.6,914.7C348.2,914.1 353.2,913.5 358.2,913.4C363.3,913.2 368.6,913.2 373.6,913.7C378.6,914.2 383.6,915.2 388.0,916.3C392.5,917.4 396.2,918.8 400.3,920.5C404.3,922.1 408.2,924.3 412.3,926.1C416.3,927.9 420.5,930.1 424.6,931.2C428.7,932.3 432.8,932.8 436.9,932.8C441.0,932.7 445.1,931.5 449.2,931.0C453.3,930.6 457.4,930.0 461.5,930.2C465.6,930.4 469.7,931.4 473.8,932.2C477.9,933.1 482.0,934.3 486.0,935.1C490.1,936.0 494.5,936.9 498.3,937.3C502.2,937.7 506.3,937.9 509.3,937.5C512.3,937.2 514.3,936.4 516.4,935.1C518.6,933.9 519.5,931.3 522.3,929.8C525.0,928.3 528.5,924.9 532.9,926.3C537.4,927.6 544.7,933.2 549.1,938.1C553.5,943.0 557.0,951.0 559.2,955.6C561.5,960.2 561.8,962.7 562.7,965.6C563.6,968.6 564.0,970.3 564.7,973.1C565.4,975.8 566.2,978.8 566.8,982.1C567.4,985.3 567.9,988.9 568.4,992.5C568.8,996.2 569.0,1000.4 569.4,1004.1C569.8,1007.9 570.1,1011.7 570.7,1015.0C571.4,1018.4 572.1,1021.5 573.1,1024.4C574.2,1027.2 575.5,1029.7 577.2,1032.0C578.9,1034.2 581.1,1036.1 583.4,1037.8C585.8,1039.5 588.7,1040.9 591.5,1042.3C594.2,1043.6 597.2,1044.6 599.9,1045.7C602.5,1046.9 605.1,1047.8 607.5,1049.2C609.8,1050.6 611.9,1052.0 613.9,1054.0C615.8,1056.0 617.5,1058.4 619.2,1061.1C620.8,1063.7 621.9,1066.8 623.6,1070.1C625.3,1073.5 626.9,1077.0 629.2,1081.2C631.5,1085.4 634.5,1090.4 637.5,1095.4C640.4,1100.3 643.7,1105.6 646.7,1110.7C649.7,1115.9 652.8,1121.1 655.6,1126.1C658.4,1131.1 660.8,1136.2 663.4,1140.5C666.1,1144.8 668.5,1147.3 671.5,1151.7C674.5,1156.2 678.8,1159.3 681.7,1167.2C684.5,1175.1 688.1,1188.9 688.5,1199.1C688.9,1209.3 686.8,1222.0 684.1,1228.5C681.5,1235.0 676.3,1236.0 672.5,1238.0C668.7,1240.0 664.8,1239.5 661.2,1240.4C657.6,1241.4 654.0,1242.4 650.8,1243.7C647.6,1245.0 644.5,1246.5 642.0,1248.4C639.6,1250.2 637.8,1252.2 636.1,1254.6C634.4,1256.9 633.2,1259.5 631.8,1262.4C630.5,1265.2 629.2,1268.4 627.9,1271.7C626.7,1275.0 625.4,1278.7 624.2,1282.3C623.1,1285.8 622.0,1289.5 620.9,1293.2C619.9,1296.8 618.9,1300.4 617.8,1304.0C616.8,1307.7 615.7,1311.4 614.7,1315.3C613.7,1319.2 612.7,1323.4 611.8,1327.4C610.8,1331.5 610.0,1335.8 608.8,1339.7C607.7,1343.6 606.3,1347.3 604.6,1350.9C602.9,1354.5 600.8,1357.8 598.8,1361.1C596.8,1364.4 594.7,1367.4 592.6,1370.6C590.6,1373.7 588.5,1376.8 586.6,1379.9C584.6,1383.0 582.8,1386.2 581.1,1389.3C579.4,1392.3 577.9,1395.4 576.3,1398.4C574.7,1401.4 573.1,1404.3 571.4,1407.2C569.7,1410.0 567.9,1412.8 566.0,1415.5C564.0,1418.3 561.9,1420.8 559.8,1423.5C557.6,1426.2 555.9,1428.4 552.9,1431.5C549.9,1434.6 547.4,1437.9 541.8,1442.0C536.1,1446.2 527.3,1452.6 519.1,1456.5C510.9,1460.4 500.5,1464.2 492.8,1465.4C485.2,1466.6 479.1,1464.8 473.2,1463.8C467.3,1462.8 462.6,1460.7 457.4,1459.5C452.2,1458.4 447.2,1457.6 442.1,1457.1C436.9,1456.5 431.8,1456.3 426.7,1456.1C421.6,1455.9 416.5,1455.9 411.3,1455.9C406.2,1456.0 401.1,1456.0 396.0,1456.5C390.9,1456.9 385.7,1457.6 380.6,1458.4C375.5,1459.3 370.3,1460.3 365.2,1461.7C360.2,1463.0 355.0,1464.7 350.2,1466.4C345.4,1468.2 340.9,1470.6 336.4,1472.2C331.9,1473.7 327.7,1475.2 323.1,1475.7C318.4,1476.2 313.4,1476.0 308.4,1475.2C303.4,1474.5 298.1,1473.0 293.0,1471.1C288.0,1469.2 282.9,1466.2 278.0,1463.8C273.1,1461.4 268.4,1458.8 263.8,1456.9C259.2,1455.1 254.7,1454.1 250.3,1452.8Z" fill="#08b6d8" />
<path d="M238.7,1447.2C234.8,1446.2 230.9,1444.9 227.4,1443.2C223.9,1441.6 220.7,1439.4 217.8,1437.1C215.0,1434.8 212.5,1432.2 210.2,1429.4C207.8,1426.6 205.8,1423.5 203.7,1420.2C201.6,1416.9 199.6,1413.3 197.5,1409.8C195.5,1406.2 193.4,1402.7 191.4,1399.0C189.3,1395.4 187.2,1391.8 185.2,1387.9C183.3,1384.1 181.1,1380.0 179.4,1376.0C177.7,1372.0 176.0,1367.8 175.0,1364.0C174.0,1360.2 173.1,1356.6 173.2,1353.3C173.3,1349.9 174.0,1346.9 175.3,1344.0C176.6,1341.2 179.0,1338.6 181.0,1336.0C183.0,1333.4 185.8,1330.9 187.3,1328.3C188.8,1325.8 190.0,1323.1 190.0,1320.7C190.0,1318.2 189.0,1315.6 187.3,1313.7C185.6,1311.7 182.8,1310.1 179.6,1308.7C176.5,1307.3 172.3,1306.5 168.3,1305.5C164.4,1304.5 160.1,1303.7 156.0,1302.6C152.0,1301.6 147.8,1300.4 143.8,1299.0C139.7,1297.6 135.6,1296.0 131.8,1294.2C128.0,1292.4 124.3,1290.4 120.7,1288.1C117.1,1285.7 113.5,1283.2 110.3,1280.4C107.1,1277.6 103.9,1274.4 101.4,1271.1C99.0,1267.9 96.9,1264.2 95.6,1260.7C94.3,1257.2 93.7,1253.4 93.9,1250.1C94.0,1246.8 94.9,1243.5 96.5,1241.0C98.2,1238.6 100.9,1237.2 103.7,1235.6C106.5,1234.0 110.5,1233.1 113.4,1231.5C116.4,1229.8 119.8,1227.9 121.6,1225.7C123.5,1223.5 124.7,1220.8 124.7,1218.3C124.8,1215.9 123.6,1213.2 122.0,1211.0C120.4,1208.7 117.9,1206.8 115.0,1204.8C112.1,1202.9 108.5,1201.6 104.7,1199.2C101.0,1196.8 95.7,1194.2 92.4,1190.5C89.2,1186.8 86.3,1181.4 85.2,1176.8C84.2,1172.2 85.0,1166.8 86.0,1162.7C87.0,1158.6 89.4,1155.6 91.2,1152.4C93.1,1149.3 95.7,1146.9 97.2,1143.7C98.8,1140.5 99.6,1137.0 100.4,1133.3C101.2,1129.6 101.1,1125.3 102.0,1121.4C102.9,1117.4 103.7,1113.2 105.6,1109.4C107.5,1105.6 110.0,1102.0 113.3,1098.8C116.5,1095.6 120.7,1092.8 124.9,1090.3C129.1,1087.9 134.0,1085.7 138.4,1083.9C142.7,1082.0 147.3,1080.2 151.2,1079.2C155.1,1078.1 158.4,1078.0 161.8,1077.8C165.1,1077.6 168.6,1078.6 171.2,1077.8C173.7,1077.1 176.1,1075.3 177.1,1073.4C178.1,1071.4 178.2,1068.5 177.1,1066.0C175.9,1063.5 172.9,1060.9 170.1,1058.3C167.4,1055.8 163.3,1053.3 160.6,1050.7C157.8,1048.0 155.0,1045.5 153.5,1042.6C152.1,1039.8 151.6,1036.7 151.7,1033.4C151.8,1030.1 152.9,1026.4 154.1,1022.7C155.2,1018.9 156.9,1014.6 158.7,1010.7C160.5,1006.8 162.5,1002.5 164.8,999.1C167.2,995.7 169.7,992.5 172.8,990.2C176.0,987.9 179.7,986.6 183.9,985.3C188.2,983.9 193.3,983.5 198.3,982.0C203.2,980.6 208.6,978.6 213.7,976.6C218.7,974.5 224.1,972.0 228.3,969.7C232.6,967.4 236.2,965.6 239.3,962.8C242.5,960.0 243.8,956.4 247.2,952.9C250.6,949.5 255.3,944.5 259.9,942.0C264.5,939.4 270.2,937.5 274.6,937.7C279.0,937.8 283.1,940.4 286.5,942.8C290.0,945.3 292.4,949.9 295.2,952.4C298.1,954.9 300.6,957.3 303.6,957.5C306.6,957.8 310.1,956.1 313.0,953.9C315.9,951.8 318.5,947.8 321.0,944.5C323.6,941.3 325.5,937.4 328.2,934.5C330.9,931.5 333.8,928.9 337.4,926.9C341.0,925.0 345.2,923.6 349.7,922.7C354.2,921.7 359.5,921.1 364.4,921.1C369.3,921.2 374.6,921.9 379.1,923.0C383.5,924.1 387.4,925.9 391.1,927.5C394.7,929.1 397.4,930.8 401.0,932.6C404.5,934.4 408.4,936.5 412.3,938.4C416.2,940.3 420.5,942.5 424.6,943.9C428.7,945.3 432.8,946.3 436.9,946.8C441.0,947.2 445.1,946.7 449.2,946.5C453.3,946.3 457.4,945.4 461.5,945.4C465.6,945.4 469.7,945.8 473.8,946.4C477.9,947.0 482.0,948.2 486.0,949.1C490.1,950.1 494.2,951.3 498.3,952.2C502.4,953.2 506.6,954.1 510.6,955.0C514.7,955.8 518.8,956.2 522.6,957.2C526.4,958.1 530.0,959.0 533.3,960.6C536.7,962.1 539.7,964.2 542.6,966.4C545.4,968.6 547.9,971.2 550.2,973.7C552.6,976.3 554.6,978.9 556.4,981.8C558.2,984.6 559.7,987.7 560.8,991.0C562.0,994.2 562.7,997.9 563.3,1001.4C563.9,1004.9 564.1,1008.6 564.6,1012.1C565.1,1015.7 565.4,1019.4 566.3,1022.9C567.1,1026.4 568.2,1030.1 569.7,1033.3C571.2,1036.5 573.3,1039.6 575.5,1042.2C577.8,1044.8 580.4,1046.8 583.2,1048.7C586.0,1050.6 589.1,1052.0 592.1,1053.6C595.0,1055.3 598.2,1056.7 601.0,1058.6C603.7,1060.5 606.3,1062.5 608.6,1065.1C610.9,1067.6 612.9,1070.7 614.8,1073.9C616.6,1077.2 618.1,1080.9 619.7,1084.7C621.3,1088.5 622.6,1092.7 624.3,1096.7C626.1,1100.7 627.7,1104.7 630.1,1108.7C632.6,1112.7 635.8,1116.4 638.8,1120.6C641.8,1124.7 645.2,1129.2 648.2,1133.4C651.3,1137.7 654.5,1141.9 657.1,1146.1C659.7,1150.3 662.3,1154.3 664.1,1158.7C665.9,1163.1 666.9,1167.7 667.7,1172.5C668.4,1177.3 668.5,1182.5 668.6,1187.6C668.7,1192.6 668.6,1198.1 668.2,1202.9C667.8,1207.7 667.7,1212.7 666.4,1216.3C665.1,1219.8 663.2,1222.0 660.5,1224.3C657.8,1226.5 653.6,1227.9 650.1,1229.8C646.6,1231.7 642.7,1233.4 639.7,1235.7C636.7,1238.0 634.2,1240.5 632.0,1243.6C629.8,1246.6 628.4,1250.2 626.7,1254.0C625.1,1257.8 623.6,1261.9 622.1,1266.3C620.6,1270.6 619.0,1275.3 617.5,1280.1C615.9,1284.9 614.5,1290.4 612.9,1295.1C611.3,1299.8 609.7,1304.5 607.9,1308.3C606.2,1312.2 604.2,1314.4 602.4,1318.2C600.7,1322.0 599.2,1326.7 597.5,1331.1C595.8,1335.6 594.2,1340.6 592.2,1345.0C590.2,1349.3 587.6,1353.3 585.2,1357.2C582.7,1361.2 580.0,1364.8 577.5,1368.7C575.0,1372.6 572.4,1376.6 570.2,1380.6C567.9,1384.7 565.9,1388.8 564.0,1392.9C562.2,1397.0 560.7,1401.2 559.1,1405.2C557.4,1409.3 556.0,1413.4 554.1,1417.2C552.3,1421.0 550.3,1424.7 548.0,1427.9C545.7,1431.2 543.1,1434.2 540.3,1436.8C537.5,1439.4 534.5,1441.5 531.1,1443.5C527.7,1445.4 524.1,1447.2 520.0,1448.5C515.9,1449.9 511.2,1450.9 506.5,1451.6C501.7,1452.2 496.5,1452.2 491.5,1452.3C486.4,1452.5 481.2,1452.0 476.1,1452.3C471.0,1452.6 466.0,1453.7 460.7,1454.1C455.5,1454.4 450.2,1454.8 444.6,1454.2C439.1,1453.7 433.0,1451.7 427.4,1450.6C421.9,1449.6 416.6,1448.5 411.3,1448.2C406.1,1447.9 401.1,1448.2 396.0,1448.8C390.9,1449.3 385.7,1450.4 380.6,1451.3C375.5,1452.3 370.2,1453.4 365.2,1454.6C360.3,1455.8 355.3,1457.1 350.9,1458.6C346.5,1460.1 342.9,1462.1 338.8,1463.6C334.7,1465.2 330.7,1467.1 326.2,1468.0C321.6,1468.9 316.5,1469.3 311.5,1468.9C306.5,1468.5 301.2,1467.3 296.1,1465.7C291.0,1464.0 285.9,1461.2 280.7,1459.0C275.6,1456.8 270.3,1454.0 265.4,1452.4C260.4,1450.7 255.4,1449.8 251.0,1448.9C246.5,1448.1 242.7,1448.1 238.7,1447.2Z" fill="#0c97f0" />
<path d="M246.9,1442.8C243.7,1442.2 239.8,1441.4 236.3,1440.2C232.8,1439.0 228.9,1437.4 225.9,1435.6C222.8,1433.7 220.3,1431.6 217.8,1429.1C215.4,1426.5 213.5,1423.4 211.4,1420.2C209.3,1417.0 207.3,1413.3 205.2,1409.8C203.2,1406.2 201.1,1402.6 199.1,1399.0C197.0,1395.4 194.9,1391.9 192.9,1388.3C190.9,1384.7 188.9,1381.2 187.1,1377.5C185.4,1373.9 183.7,1370.1 182.5,1366.4C181.3,1362.7 180.3,1358.6 180.1,1355.1C180.0,1351.7 180.5,1348.5 181.6,1345.6C182.8,1342.7 185.2,1340.3 187.1,1337.6C189.1,1334.8 191.9,1332.2 193.4,1329.2C195.0,1326.2 196.2,1322.6 196.2,1319.5C196.2,1316.4 195.1,1313.1 193.4,1310.6C191.8,1308.0 189.1,1305.9 186.1,1304.1C183.1,1302.2 179.4,1300.9 175.7,1299.5C172.0,1298.1 167.8,1297.2 163.7,1295.7C159.7,1294.3 155.5,1292.7 151.4,1290.8C147.3,1288.9 143.2,1286.3 139.1,1284.1C135.1,1281.9 130.8,1279.7 127.2,1277.6C123.6,1275.5 119.8,1273.6 117.4,1271.5C115.1,1269.3 113.4,1267.2 113.0,1264.8C112.6,1262.4 113.6,1259.6 115.3,1257.3C117.0,1254.9 120.3,1252.7 123.3,1250.6C126.4,1248.4 130.3,1246.5 133.8,1244.4C137.2,1242.3 140.9,1240.3 143.8,1238.0C146.7,1235.6 149.6,1233.1 151.2,1230.3C152.8,1227.5 153.8,1224.3 153.6,1221.1C153.3,1217.8 151.7,1214.1 149.6,1211.0C147.6,1207.8 144.3,1204.7 141.1,1202.1C137.9,1199.5 134.1,1197.5 130.3,1195.6C126.6,1193.7 122.1,1192.4 118.4,1190.7C114.6,1188.9 110.3,1187.5 107.8,1185.0C105.3,1182.6 103.7,1179.4 103.2,1176.2C102.7,1172.9 103.8,1168.8 104.9,1165.6C106.0,1162.3 107.9,1159.6 109.5,1156.9C111.2,1154.1 113.3,1151.7 114.8,1148.8C116.3,1146.0 117.7,1143.0 118.7,1139.6C119.6,1136.2 120.0,1132.3 120.5,1128.5C121.1,1124.8 121.2,1120.3 122.0,1117.0C122.8,1113.8 123.6,1111.4 125.2,1109.1C126.8,1106.7 128.9,1104.8 131.4,1102.9C133.9,1101.0 137.1,1098.8 140.2,1097.4C143.3,1096.1 147.0,1094.9 150.0,1094.7C152.9,1094.5 155.5,1095.2 158.0,1096.2C160.5,1097.2 162.5,1099.5 164.8,1100.7C167.2,1101.9 169.7,1103.3 172.2,1103.4C174.6,1103.6 177.3,1103.0 179.5,1101.5C181.8,1100.1 183.8,1097.5 185.7,1094.5C187.5,1091.6 189.0,1087.8 190.6,1083.8C192.3,1079.7 193.8,1075.0 195.6,1070.3C197.3,1065.5 199.4,1060.3 201.4,1055.3C203.4,1050.2 205.5,1045.0 207.5,1039.9C209.6,1034.8 211.6,1029.6 213.7,1024.9C215.8,1020.2 217.7,1015.5 220.1,1011.7C222.6,1007.9 225.1,1004.8 228.2,1002.2C231.2,999.5 234.9,997.6 238.2,995.7C241.5,993.7 245.3,992.4 248.0,990.4C250.7,988.4 252.6,986.3 254.5,983.6C256.3,980.9 257.3,977.0 259.2,974.2C261.2,971.3 263.7,967.9 266.2,966.5C268.8,965.0 271.9,964.8 274.4,965.5C277.0,966.3 279.1,969.0 281.6,971.1C284.1,973.1 286.5,976.5 289.7,977.9C292.9,979.2 296.6,980.1 300.6,979.3C304.5,978.5 309.3,975.9 313.4,973.1C317.5,970.3 321.8,966.4 325.3,962.6C328.8,958.9 331.7,954.6 334.5,950.7C337.3,946.8 339.2,942.6 342.0,939.4C344.9,936.2 347.8,933.5 351.6,931.6C355.4,929.6 360.0,928.3 364.7,927.9C369.4,927.6 374.7,928.1 379.8,929.5C384.8,930.9 390.0,933.8 395.1,936.5C400.2,939.2 405.2,942.9 410.2,945.6C415.2,948.3 420.0,951.0 424.9,952.7C429.7,954.5 434.7,955.5 439.3,956.0C443.8,956.5 448.0,956.0 452.2,955.7C456.5,955.5 460.4,954.6 464.5,954.6C468.6,954.6 472.8,955.0 476.8,956.0C480.8,957.0 485.0,958.6 488.4,960.6C491.9,962.6 494.9,965.7 497.3,967.9C499.8,970.1 501.3,973.0 503.3,973.8C505.3,974.5 507.1,973.1 509.4,972.4C511.8,971.6 514.4,969.7 517.5,969.2C520.5,968.7 524.1,968.6 527.5,969.2C531.0,969.8 534.7,971.2 538.0,973.0C541.2,974.9 544.3,977.5 546.8,980.2C549.3,982.9 551.5,986.2 553.0,989.4C554.5,992.7 555.4,996.4 555.7,999.9C556.0,1003.3 555.5,1007.1 554.7,1010.3C553.9,1013.5 552.6,1016.6 551.0,1019.2C549.5,1021.7 547.5,1023.7 545.5,1025.5C543.5,1027.2 540.7,1028.2 539.0,1029.5C537.2,1030.7 535.5,1031.4 535.0,1033.0C534.6,1034.5 535.1,1036.4 536.2,1038.6C537.3,1040.8 539.5,1043.5 541.7,1045.9C543.9,1048.4 546.5,1051.0 549.4,1053.3C552.3,1055.5 555.4,1057.6 558.9,1059.4C562.5,1061.3 566.6,1062.7 570.6,1064.4C574.5,1066.0 578.7,1067.5 582.5,1069.3C586.3,1071.2 590.0,1073.2 593.3,1075.5C596.5,1077.8 599.6,1080.3 602.2,1083.2C604.7,1086.0 606.8,1089.1 608.3,1092.7C609.8,1096.3 610.6,1100.4 611.2,1104.7C611.8,1109.1 611.4,1113.9 611.8,1118.7C612.3,1123.5 612.7,1128.6 613.9,1133.4C615.1,1138.3 617.2,1143.0 619.0,1147.6C620.8,1152.2 623.0,1157.0 624.7,1161.1C626.3,1165.2 627.6,1169.5 629.0,1172.0C630.4,1174.6 631.6,1176.1 632.9,1176.3C634.1,1176.5 635.3,1174.7 636.7,1173.4C638.1,1172.1 639.4,1169.6 641.0,1168.4C642.7,1167.3 644.8,1166.4 646.7,1166.6C648.6,1166.9 650.7,1168.2 652.5,1170.0C654.3,1171.8 656.0,1174.5 657.3,1177.5C658.6,1180.4 659.9,1184.1 660.3,1187.6C660.7,1191.0 660.5,1194.8 659.7,1198.0C658.8,1201.2 657.2,1204.3 655.2,1206.7C653.2,1209.1 650.5,1210.8 647.5,1212.2C644.6,1213.7 640.9,1214.2 637.5,1215.2C634.0,1216.2 630.2,1216.8 627.0,1218.2C623.9,1219.6 620.8,1221.4 618.5,1223.7C616.2,1226.1 614.7,1229.2 613.4,1232.5C612.1,1235.8 611.5,1239.5 610.6,1243.6C609.7,1247.6 609.0,1252.2 607.9,1256.7C606.9,1261.2 605.6,1265.9 604.4,1270.5C603.2,1275.1 602.0,1279.8 600.8,1284.4C599.5,1288.9 598.4,1293.5 597.2,1297.7C595.9,1302.0 594.5,1306.0 593.4,1310.1C592.2,1314.1 591.5,1318.1 590.2,1321.9C589.0,1325.7 587.9,1329.3 585.9,1332.7C583.9,1336.0 581.3,1339.1 578.4,1341.9C575.4,1344.7 571.8,1347.2 568.3,1349.6C564.8,1351.9 561.1,1353.9 557.5,1356.0C554.0,1358.2 550.4,1360.1 547.1,1362.2C543.8,1364.3 540.5,1366.4 537.9,1368.7C535.3,1371.0 532.8,1373.5 531.6,1376.0C530.3,1378.6 530.4,1381.2 530.6,1384.0C530.8,1386.9 532.1,1390.0 532.8,1393.3C533.5,1396.5 534.5,1400.2 534.9,1403.7C535.4,1407.2 535.7,1411.0 535.5,1414.4C535.3,1417.9 534.9,1421.5 533.8,1424.5C532.8,1427.5 531.2,1430.2 529.2,1432.5C527.2,1434.9 524.5,1436.9 521.5,1438.5C518.5,1440.2 514.8,1441.5 511.1,1442.4C507.4,1443.2 503.1,1443.7 499.1,1443.7C495.2,1443.8 490.9,1443.1 487.2,1442.7C483.5,1442.3 479.9,1441.4 476.8,1441.4C473.6,1441.4 471.2,1442.0 468.4,1442.8C465.6,1443.6 463.1,1445.3 460.1,1446.2C457.0,1447.1 453.4,1447.9 450.0,1448.0C446.6,1448.1 442.8,1447.6 439.5,1446.9C436.2,1446.2 433.1,1445.3 430.2,1443.8C427.3,1442.4 424.8,1439.8 422.1,1438.0C419.4,1436.2 416.9,1434.1 414.1,1433.1C411.3,1432.2 408.3,1432.0 405.2,1432.5C402.1,1433.0 399.0,1434.7 395.6,1436.1C392.3,1437.6 388.7,1439.5 384.9,1441.0C381.1,1442.5 377.0,1443.8 372.9,1445.0C368.9,1446.2 364.7,1447.2 360.6,1448.3C356.6,1449.4 352.5,1450.3 348.7,1451.7C344.9,1453.0 341.3,1454.7 337.9,1456.3C334.5,1457.9 331.6,1460.1 328.4,1461.4C325.2,1462.8 322.1,1463.9 318.8,1464.3C315.5,1464.7 311.9,1464.4 308.4,1463.7C304.9,1463.0 301.2,1461.6 297.6,1460.1C294.0,1458.5 290.5,1456.3 286.9,1454.4C283.3,1452.5 279.7,1450.4 276.1,1448.8C272.5,1447.2 268.8,1445.8 265.4,1444.9C261.9,1444.0 258.6,1443.7 255.6,1443.4C252.5,1443.0 250.2,1443.3 246.9,1442.8Z" fill="#1670fa" />
<path d="M164.5,1027.6C164.2,1023.8 165.5,1017.7 167.6,1013.8C169.6,1009.8 173.2,1005.8 176.8,1003.8C180.4,1001.7 185.5,1001.1 189.1,1001.5C192.7,1001.9 196.4,1003.5 198.3,1006.1C200.2,1008.7 200.9,1013.0 200.6,1016.9C200.3,1020.7 198.7,1025.6 196.8,1029.1C194.8,1032.7 192.1,1036.4 189.1,1038.4C186.0,1040.3 181.6,1040.9 178.3,1040.7C175.0,1040.4 171.4,1039.0 169.1,1036.8C166.8,1034.7 164.7,1031.5 164.5,1027.6Z" fill="#1670fa" />
<path d="M525.2,998.3C525.2,995.9 526.0,992.3 527.5,990.6C529.1,989.0 532.1,988.3 534.4,988.3C536.8,988.3 539.8,989.0 541.4,990.6C542.9,992.3 543.8,995.9 543.7,998.3C543.5,1000.7 542.3,1003.7 540.6,1005.2C538.9,1006.8 535.9,1007.5 533.7,1007.5C531.5,1007.5 528.9,1006.8 527.5,1005.2C526.1,1003.7 525.2,1000.7 525.2,998.3Z" fill="#4b44f0" />
<path d="M566.7,1098.2C566.6,1095.5 567.4,1091.7 569.0,1089.7C570.7,1087.8 574.1,1086.7 576.7,1086.7C579.3,1086.7 582.7,1087.8 584.4,1089.7C586.1,1091.7 586.8,1095.5 586.7,1098.2C586.6,1100.9 585.3,1104.1 583.6,1105.9C582.0,1107.7 579.0,1108.9 576.7,1108.9C574.4,1108.9 571.5,1107.7 569.8,1105.9C568.1,1104.1 566.8,1100.9 566.7,1098.2Z" fill="#4b44f0" />
<path d="M514.5,1110.7C515.0,1107.9 516.6,1104.8 519.1,1103.0C521.7,1101.3 526.1,1099.7 529.9,1100.0C533.7,1100.2 538.9,1102.3 542.2,1104.6C545.5,1106.9 548.5,1110.5 549.9,1113.8C551.3,1117.1 551.4,1121.2 550.6,1124.6C549.9,1127.9 547.7,1131.2 545.3,1133.8C542.8,1136.3 539.1,1139.2 536.0,1139.9C533.0,1140.7 529.4,1140.2 526.8,1138.4C524.3,1136.6 522.5,1132.2 520.7,1129.2C518.9,1126.1 517.1,1123.0 516.1,1120.0C515.0,1116.9 514.0,1113.5 514.5,1110.7Z" fill="#4b44f0" />
<path d="M554.5,1329.9C554.5,1327.5 557.0,1322.2 559.1,1319.2C561.1,1316.1 563.9,1313.4 566.8,1311.5C569.6,1309.6 573.5,1307.4 576.0,1307.6C578.4,1307.9 580.7,1310.6 581.4,1313.0C582.0,1315.5 581.0,1319.4 579.8,1322.2C578.7,1325.1 576.6,1328.0 574.4,1329.9C572.3,1331.8 569.3,1333.1 566.8,1333.8C564.2,1334.4 561.1,1334.4 559.1,1333.8C557.0,1333.1 554.5,1332.4 554.5,1329.9Z" fill="#4b44f0" />
<path d="M501.5,1356.0C501.5,1353.2 502.9,1348.1 505.3,1345.3C507.7,1342.5 512.2,1340.4 516.0,1339.1C519.9,1337.9 524.5,1337.6 528.3,1337.6C532.2,1337.6 537.2,1337.9 539.1,1339.1C541.0,1340.4 540.6,1343.0 539.9,1345.3C539.1,1347.6 536.9,1350.7 534.5,1353.0C532.1,1355.3 528.6,1357.5 525.3,1359.1C521.9,1360.8 517.8,1362.5 514.5,1363.0C511.2,1363.5 507.5,1363.3 505.3,1362.2C503.1,1361.0 501.5,1358.9 501.5,1356.0Z" fill="#4b44f0" />
<path d="M488.4,1417.5C488.5,1414.7 489.7,1409.7 491.5,1406.8C493.3,1403.8 496.1,1401.2 499.1,1399.8C502.2,1398.4 506.6,1397.7 509.9,1398.3C513.2,1398.9 517.1,1401.0 519.1,1403.7C521.2,1406.4 521.9,1410.9 522.2,1414.4C522.5,1418.0 521.9,1422.1 520.7,1425.2C519.4,1428.3 517.1,1431.3 514.5,1432.9C512.0,1434.4 508.4,1434.9 505.3,1434.4C502.2,1433.9 498.5,1431.6 496.1,1429.8C493.6,1428.0 492.0,1425.7 490.7,1423.7C489.4,1421.6 488.3,1420.3 488.4,1417.5Z" fill="#4b44f0" />
<path d="M392.9,1391.4C393.0,1388.3 394.4,1384.0 396.0,1380.7C397.5,1377.3 399.8,1373.7 402.1,1371.4C404.4,1369.1 407.2,1367.1 409.8,1366.8C412.4,1366.6 415.4,1367.9 417.5,1369.9C419.5,1372.0 421.2,1375.8 422.1,1379.1C423.0,1382.5 423.4,1386.3 422.9,1389.9C422.4,1393.5 420.9,1398.1 419.0,1400.6C417.1,1403.2 414.2,1404.6 411.3,1405.2C408.5,1405.9 404.8,1405.5 402.1,1404.5C399.4,1403.5 396.7,1401.3 395.2,1399.1C393.7,1396.9 392.8,1394.5 392.9,1391.4Z" fill="#4b44f0" />
<path d="M321.5,1428.3C321.5,1425.7 321.1,1421.9 322.2,1419.1C323.4,1416.3 325.5,1413.1 328.4,1411.4C331.2,1409.7 335.5,1409.1 339.1,1409.1C342.7,1409.1 346.5,1410.0 349.9,1411.4C353.2,1412.8 356.3,1415.0 359.1,1417.5C361.9,1420.1 365.1,1423.9 366.8,1426.8C368.4,1429.6 369.6,1432.3 369.1,1434.4C368.6,1436.6 366.4,1438.7 363.7,1439.8C361.0,1441.0 356.8,1441.1 353.0,1441.4C349.1,1441.6 344.8,1441.7 340.7,1441.4C336.6,1441.0 331.4,1440.2 328.4,1439.0C325.3,1437.9 323.4,1436.2 322.2,1434.4C321.1,1432.6 321.5,1430.9 321.5,1428.3Z" fill="#4b44f0" />
<path d="M311.3,1448.3C311.5,1449.3 311.3,1450.6 310.8,1451.6C310.2,1452.6 309.2,1453.6 308.1,1454.3C307.0,1455.0 305.5,1455.6 304.1,1455.9C302.7,1456.1 301.1,1456.1 299.8,1455.8C298.5,1455.5 297.2,1454.9 296.3,1454.1C295.5,1453.3 294.9,1452.3 294.7,1451.3C294.5,1450.3 294.7,1449.0 295.3,1448.0C295.8,1447.1 296.8,1446.0 297.9,1445.3C299.0,1444.6 300.6,1444.0 301.9,1443.8C303.3,1443.5 305.0,1443.5 306.2,1443.8C307.5,1444.1 308.8,1444.8 309.7,1445.5C310.5,1446.3 311.2,1447.3 311.3,1448.3Z" fill="#4b44f0" />
<path d="M397.4,975.3C397.7,973.6 399.6,971.2 401.3,970.7C402.9,970.1 405.5,970.9 407.4,972.2C409.3,973.5 412.0,976.5 412.8,978.3C413.6,980.1 413.2,982.1 412.0,983.0C410.9,983.8 407.9,984.1 405.9,983.7C403.8,983.3 401.1,982.1 399.7,980.6C398.3,979.2 397.2,976.9 397.4,975.3Z" fill="#0c97f0" />
<path d="M190.6,1195.3C190.1,1190.7 191.4,1185.4 192.9,1181.4C194.4,1177.5 197.1,1173.5 199.8,1171.5C202.5,1169.4 206.0,1168.8 209.0,1169.1C212.1,1169.5 216.1,1171.2 218.3,1173.8C220.4,1176.3 221.9,1180.7 222.1,1184.5C222.4,1188.4 221.2,1193.0 219.8,1196.8C218.4,1200.6 216.2,1205.0 213.7,1207.6C211.1,1210.1 207.4,1211.9 204.4,1212.2C201.5,1212.4 198.3,1211.9 196.0,1209.1C193.7,1206.3 191.1,1199.9 190.6,1195.3Z" fill="#0c97f0" />
<path d="M360.6,1325.3C361.1,1322.5 362.7,1320.7 365.2,1319.2C367.8,1317.7 372.2,1316.8 376.0,1316.1C379.8,1315.5 384.2,1315.1 388.3,1315.4C392.4,1315.6 397.3,1316.2 400.6,1317.7C403.9,1319.1 406.9,1321.0 408.3,1323.8C409.7,1326.6 409.8,1331.0 409.0,1334.6C408.3,1338.1 405.8,1342.0 403.7,1345.3C401.5,1348.6 398.8,1352.0 396.0,1354.5C393.2,1357.1 389.8,1359.4 386.8,1360.7C383.7,1362.0 380.4,1362.7 377.5,1362.2C374.7,1361.7 371.9,1359.9 369.9,1357.6C367.8,1355.3 366.5,1352.0 365.2,1348.4C364.0,1344.8 362.9,1339.9 362.2,1336.1C361.4,1332.3 360.1,1328.2 360.6,1325.3Z" fill="#0c97f0" />
<path d="M266.8,1420.5C266.6,1417.7 266.9,1413.7 267.7,1409.9C268.6,1406.0 270.2,1401.5 272.2,1397.2C274.2,1393.0 276.8,1388.2 279.5,1384.4C282.3,1380.6 285.4,1376.8 288.8,1374.7C292.1,1372.5 295.8,1371.5 299.5,1371.6C303.2,1371.7 307.4,1373.4 311.1,1375.2C314.9,1377.0 319.1,1379.9 321.9,1382.2C324.7,1384.5 327.6,1387.2 328.1,1389.2C328.5,1391.2 326.5,1392.6 324.6,1394.1C322.7,1395.7 319.1,1396.5 316.7,1398.2C314.4,1399.9 312.3,1401.9 310.6,1404.4C309.0,1406.8 308.2,1410.1 306.9,1412.9C305.5,1415.8 304.7,1419.0 302.8,1421.5C300.9,1423.9 298.3,1426.0 295.4,1427.4C292.5,1428.9 288.6,1429.6 285.3,1429.9C282.0,1430.2 278.3,1429.9 275.6,1429.3C272.9,1428.7 270.7,1427.9 269.3,1426.4C267.8,1424.9 267.1,1423.2 266.8,1420.5Z" fill="#0c97f0" />
<path d="M439.8,1412.9C439.5,1410.4 441.4,1405.8 443.6,1402.2C445.8,1398.6 449.2,1394.2 452.8,1391.4C456.4,1388.6 460.8,1386.7 465.1,1385.3C469.5,1383.9 475.2,1382.8 478.9,1383.0C482.7,1383.1 486.1,1384.1 487.4,1386.0C488.7,1388.0 488.0,1391.5 486.6,1394.5C485.2,1397.4 482.0,1400.9 478.9,1403.7C475.9,1406.5 472.0,1409.2 468.2,1411.4C464.4,1413.6 459.7,1415.7 455.9,1416.8C452.1,1417.8 447.8,1418.2 445.1,1417.5C442.5,1416.9 440.0,1415.5 439.8,1412.9Z" fill="#0c97f0" />
<path d="M460.5,1363.8C460.5,1364.8 460.1,1366.1 459.5,1367.0C458.8,1367.9 457.8,1368.8 456.7,1369.3C455.6,1369.9 454.1,1370.2 452.8,1370.2C451.5,1370.2 450.1,1369.9 449.0,1369.3C447.9,1368.8 446.8,1367.9 446.2,1367.0C445.5,1366.1 445.1,1364.8 445.1,1363.8C445.1,1362.7 445.5,1361.5 446.2,1360.5C446.8,1359.6 447.9,1358.7 449.0,1358.2C450.1,1357.6 451.5,1357.3 452.8,1357.3C454.1,1357.3 455.6,1357.6 456.7,1358.2C457.8,1358.7 458.8,1359.6 459.5,1360.5C460.1,1361.5 460.5,1362.7 460.5,1363.8Z" fill="#0c97f0" />
<path d="M388.8,1341.0C388.5,1342.3 387.7,1343.8 386.8,1344.8C386.0,1345.8 384.7,1346.7 383.6,1347.1C382.4,1347.6 381.1,1347.6 380.0,1347.3C378.8,1347.0 377.7,1346.3 376.9,1345.3C376.1,1344.4 375.5,1343.0 375.3,1341.7C375.0,1340.4 375.1,1338.7 375.5,1337.4C375.8,1336.0 376.6,1334.6 377.5,1333.5C378.3,1332.5 379.6,1331.6 380.7,1331.2C381.8,1330.8 383.2,1330.7 384.3,1331.0C385.4,1331.3 386.6,1332.1 387.4,1333.0C388.2,1333.9 388.8,1335.3 389.0,1336.6C389.3,1338.0 389.2,1339.6 388.8,1341.0Z" fill="#08b6d8" />
<path d="M135.6,1172.3C135.3,1170.5 135.6,1168.1 136.6,1165.6C137.7,1163.0 139.9,1159.8 142.1,1157.0C144.3,1154.3 147.6,1151.7 149.6,1149.0C151.7,1146.3 153.3,1143.7 154.6,1141.0C155.9,1138.2 156.1,1135.2 157.5,1132.4C158.9,1129.7 160.3,1127.1 163.1,1124.4C165.9,1121.7 170.1,1119.3 174.0,1116.1C178.0,1112.8 182.9,1109.3 186.9,1105.0C190.8,1100.6 194.6,1095.3 198.0,1089.9C201.3,1084.5 204.4,1078.2 207.2,1072.5C210.0,1066.8 212.5,1061.0 214.9,1055.6C217.2,1050.2 219.1,1045.0 221.3,1040.2C223.6,1035.4 225.4,1030.8 228.2,1026.7C230.9,1022.7 233.8,1019.0 238.1,1015.7C242.3,1012.3 247.5,1009.2 253.8,1006.4C260.0,1003.7 268.3,1001.4 275.5,999.3C282.7,997.2 290.8,995.9 296.9,993.9C302.9,991.8 306.9,989.8 311.7,987.1C316.5,984.4 321.1,981.2 325.6,977.7C330.2,974.1 335.0,969.8 339.1,965.7C343.2,961.6 346.7,956.8 350.2,953.2C353.7,949.7 356.7,946.4 360.1,944.4C363.5,942.3 367.3,941.3 370.5,940.9C373.7,940.6 377.6,941.4 379.3,942.5C381.0,943.6 381.4,945.7 380.8,947.6C380.2,949.5 377.3,951.5 375.5,953.8C373.7,956.0 371.2,958.0 370.2,960.9C369.1,963.8 368.8,967.3 369.2,971.0C369.6,974.7 371.1,979.1 372.6,983.3C374.1,987.5 376.1,992.3 378.2,996.1C380.3,999.9 382.4,1003.7 385.0,1006.2C387.7,1008.6 390.7,1010.1 394.3,1010.8C397.8,1011.5 402.3,1010.6 406.3,1010.3C410.2,1010.0 414.6,1008.9 417.9,1008.9C421.2,1008.9 423.2,1010.0 426.3,1010.3C429.3,1010.5 433.0,1011.2 436.2,1010.5C439.4,1009.7 442.7,1007.5 445.8,1005.7C448.8,1003.9 451.3,1001.0 454.5,999.7C457.6,998.4 461.1,997.7 464.9,997.8C468.6,997.9 472.9,999.1 476.8,1000.2C480.8,1001.3 485.0,1002.9 488.4,1004.5C491.9,1006.1 495.2,1007.6 497.7,1009.7C500.2,1011.9 502.0,1014.5 503.5,1017.4C504.9,1020.4 505.3,1024.1 506.4,1027.5C507.4,1030.9 508.3,1034.7 509.8,1037.9C511.3,1041.2 513.5,1044.3 515.2,1047.1C517.0,1050.0 519.4,1052.7 520.4,1055.2C521.4,1057.6 522.1,1060.2 521.2,1061.8C520.4,1063.5 518.2,1064.4 515.4,1064.9C512.6,1065.4 508.2,1064.6 504.5,1064.7C500.7,1064.8 496.4,1064.5 492.9,1065.4C489.4,1066.3 486.1,1067.9 483.5,1070.0C480.8,1072.1 478.5,1075.3 477.1,1078.2C475.7,1081.2 474.9,1084.5 474.9,1087.8C475.0,1091.0 476.2,1094.7 477.2,1097.9C478.1,1101.0 480.1,1104.1 480.8,1106.8C481.4,1109.4 482.0,1111.6 481.2,1113.8C480.3,1115.9 477.9,1117.8 475.6,1120.0C473.4,1122.1 469.9,1124.2 467.7,1126.8C465.6,1129.4 463.5,1132.6 462.9,1135.7C462.2,1138.8 462.4,1142.5 463.8,1145.4C465.2,1148.3 467.9,1151.0 471.3,1153.1C474.7,1155.2 479.5,1156.7 484.1,1158.0C488.8,1159.4 494.2,1160.2 499.2,1161.1C504.2,1162.0 509.4,1162.3 514.2,1163.1C519.0,1164.0 523.7,1164.8 528.0,1166.3C532.3,1167.7 536.3,1170.2 540.0,1171.9C543.6,1173.5 546.7,1175.5 549.9,1176.2C553.0,1176.9 556.0,1176.3 558.8,1176.0C561.5,1175.6 564.2,1173.7 566.3,1173.9C568.4,1174.1 570.2,1174.9 571.3,1177.3C572.5,1179.7 572.8,1184.0 573.2,1188.2C573.5,1192.5 573.2,1197.9 573.4,1202.9C573.7,1207.9 574.2,1213.3 574.8,1218.3C575.4,1223.3 576.7,1228.4 577.0,1233.0C577.4,1237.6 577.8,1241.8 577.0,1245.9C576.1,1250.1 574.3,1254.1 571.7,1257.9C569.2,1261.7 565.3,1265.5 561.8,1269.0C558.4,1272.5 554.3,1275.8 551.2,1279.0C548.1,1282.1 546.0,1284.6 543.4,1287.7C540.8,1290.8 538.5,1294.2 535.7,1297.3C532.9,1300.5 529.7,1303.7 526.5,1306.5C523.2,1309.4 519.6,1312.1 516.0,1314.2C512.5,1316.4 508.8,1318.4 505.0,1319.5C501.1,1320.6 497.0,1320.7 493.0,1321.0C489.0,1321.2 484.8,1320.5 480.7,1321.0C476.6,1321.4 472.5,1322.3 468.4,1323.5C464.4,1324.8 460.4,1326.8 456.5,1328.6C452.6,1330.3 448.6,1332.7 445.0,1333.9C441.3,1335.0 437.3,1336.0 434.6,1335.3C431.9,1334.5 430.3,1331.9 428.6,1329.3C426.8,1326.7 426.2,1322.6 424.2,1319.5C422.1,1316.4 419.7,1313.2 416.5,1310.7C413.3,1308.1 409.0,1306.1 404.9,1304.5C400.7,1302.9 395.9,1301.9 391.4,1300.9C386.8,1299.9 382.0,1299.1 377.5,1298.5C373.1,1297.8 368.4,1296.9 364.7,1297.0C361.0,1297.1 357.8,1297.5 355.3,1299.0C352.9,1300.6 351.2,1303.2 350.1,1306.4C349.0,1309.5 348.8,1313.8 348.8,1318.0C348.9,1322.2 349.5,1327.0 350.2,1331.5C350.9,1336.0 352.0,1340.7 353.0,1345.0C353.9,1349.3 355.2,1353.5 356.0,1357.3C356.8,1361.0 358.0,1364.7 357.7,1367.4C357.5,1370.0 356.4,1372.1 354.3,1373.0C352.3,1373.9 348.5,1373.6 345.3,1372.7C342.0,1371.9 338.2,1369.8 334.8,1367.9C331.5,1365.9 328.5,1363.2 325.3,1361.0C322.0,1358.9 318.7,1356.6 315.4,1354.9C312.1,1353.1 308.3,1351.5 305.4,1350.6C302.6,1349.7 300.6,1349.0 298.3,1349.3C296.0,1349.6 293.8,1350.7 291.6,1352.4C289.4,1354.1 287.3,1356.8 285.1,1359.4C283.0,1362.1 281.0,1365.3 278.6,1368.3C276.3,1371.3 273.7,1374.4 271.0,1377.5C268.2,1380.6 265.1,1383.6 262.4,1386.7C259.8,1389.9 257.1,1392.9 255.1,1396.3C253.0,1399.7 251.5,1403.4 250.1,1407.0C248.7,1410.7 247.9,1415.0 246.7,1418.3C245.5,1421.6 244.6,1425.0 243.0,1426.9C241.3,1428.7 239.1,1429.8 236.8,1429.6C234.5,1429.4 231.4,1427.7 228.9,1425.7C226.5,1423.6 224.3,1420.3 222.1,1417.1C220.0,1414.0 218.0,1410.2 216.0,1406.7C213.9,1403.2 211.9,1399.6 209.8,1396.3C207.8,1393.0 205.7,1389.9 203.7,1386.7C201.7,1383.6 199.5,1380.6 197.9,1377.5C196.2,1374.4 194.5,1371.3 193.9,1368.3C193.3,1365.3 193.3,1362.3 194.3,1359.7C195.2,1357.2 197.5,1355.3 199.7,1353.3C202.0,1351.2 205.4,1349.9 207.6,1347.6C209.9,1345.4 212.1,1343.0 213.3,1340.0C214.4,1336.9 214.6,1333.2 214.7,1329.5C214.8,1325.9 213.8,1321.5 213.8,1318.1C213.8,1314.7 213.5,1311.4 214.8,1308.9C216.1,1306.5 218.6,1305.2 221.6,1303.6C224.6,1302.0 228.9,1300.6 232.9,1299.5C236.8,1298.4 241.1,1297.3 245.2,1297.1C249.3,1296.8 253.5,1297.5 257.5,1297.9C261.4,1298.4 265.7,1299.7 269.1,1299.7C272.5,1299.6 275.8,1299.2 277.8,1297.8C279.7,1296.4 281.0,1293.6 280.8,1291.5C280.6,1289.3 278.9,1286.6 276.6,1284.8C274.3,1282.9 270.8,1281.9 267.2,1280.4C263.6,1278.9 258.9,1277.6 254.7,1275.8C250.5,1274.0 246.1,1271.7 242.1,1269.6C238.1,1267.5 233.9,1264.7 230.5,1262.9C227.1,1261.2 224.0,1259.5 221.6,1259.0C219.2,1258.6 217.6,1259.0 216.0,1260.2C214.3,1261.4 213.0,1263.7 211.7,1266.4C210.4,1269.0 209.4,1272.8 208.3,1276.1C207.2,1279.3 206.3,1283.3 204.9,1285.8C203.5,1288.3 202.1,1290.4 199.9,1291.1C197.8,1291.8 195.1,1291.0 191.9,1290.0C188.7,1289.0 184.4,1287.0 180.6,1285.1C176.8,1283.3 172.4,1281.2 169.0,1278.8C165.6,1276.5 162.3,1274.0 160.3,1271.1C158.4,1268.3 157.1,1265.1 157.3,1261.9C157.6,1258.7 159.4,1255.0 161.8,1251.9C164.3,1248.7 168.2,1245.4 172.1,1243.1C176.0,1240.8 180.9,1239.0 185.2,1238.1C189.6,1237.2 194.5,1237.6 198.1,1237.8C201.6,1237.9 204.7,1239.4 206.8,1239.0C208.9,1238.6 209.5,1237.4 210.8,1235.3C212.0,1233.1 212.8,1229.3 214.3,1226.0C215.9,1222.7 218.1,1218.9 220.1,1215.2C222.2,1211.6 225.0,1208.0 226.8,1204.1C228.7,1200.3 230.4,1196.2 231.3,1192.2C232.1,1188.2 232.4,1184.0 232.2,1180.2C231.9,1176.5 231.2,1172.8 229.7,1169.8C228.2,1166.8 226.1,1164.2 223.4,1162.1C220.7,1160.1 217.0,1158.5 213.3,1157.7C209.6,1156.9 205.3,1156.6 201.4,1157.1C197.4,1157.6 193.3,1159.0 189.7,1160.8C186.2,1162.5 183.2,1165.3 179.9,1167.6C176.6,1169.9 173.5,1172.6 170.0,1174.4C166.4,1176.3 162.2,1177.7 158.3,1178.5C154.5,1179.2 150.0,1179.1 146.7,1178.7C143.4,1178.3 140.4,1177.0 138.5,1175.9C136.7,1174.9 135.9,1174.0 135.6,1172.3Z" fill="#4b44f0" />
<path d="M244.4,1071.7C244.5,1068.1 245.6,1063.8 247.8,1060.1C249.9,1056.4 253.7,1052.9 257.2,1049.4C260.6,1045.9 264.9,1042.7 268.4,1039.1C272.0,1035.6 275.0,1031.5 278.3,1028.2C281.7,1024.9 284.7,1021.4 288.6,1019.3C292.4,1017.2 297.0,1015.6 301.4,1015.4C305.8,1015.2 310.8,1016.2 314.9,1018.1C318.9,1020.0 323.2,1023.3 325.7,1026.7C328.1,1030.0 329.5,1034.5 329.3,1038.3C329.2,1042.1 327.2,1046.3 324.8,1049.5C322.4,1052.8 318.5,1055.3 314.9,1057.9C311.2,1060.5 307.0,1062.5 302.9,1065.1C298.9,1067.6 294.7,1070.6 290.6,1073.3C286.5,1075.9 282.4,1078.8 278.3,1081.0C274.2,1083.1 270.0,1085.4 266.0,1086.4C262.1,1087.5 257.9,1088.1 254.8,1087.3C251.6,1086.5 248.8,1084.4 247.1,1081.8C245.4,1079.2 244.2,1075.3 244.4,1071.7Z" fill="#1670fa" />
<path d="M288.3,1042.9C288.3,1040.3 289.0,1036.5 290.6,1033.7C292.3,1030.8 295.2,1027.4 298.3,1026.0C301.4,1024.6 306.3,1024.4 309.1,1025.2C311.9,1026.0 314.2,1028.4 315.2,1030.6C316.2,1032.8 316.5,1036.0 315.2,1038.3C313.9,1040.6 310.4,1042.6 307.5,1044.4C304.7,1046.2 301.1,1048.3 298.3,1049.0C295.5,1049.8 292.3,1050.0 290.6,1049.0C289.0,1048.0 288.3,1045.4 288.3,1042.9Z" fill="#0c97f0" />
<path d="M251.3,1120.0C250.8,1115.6 251.7,1112.2 252.8,1109.2C254.0,1106.3 256.0,1103.6 258.2,1102.3C260.4,1101.0 263.5,1100.6 265.9,1101.5C268.3,1102.4 271.0,1104.9 272.8,1107.7C274.6,1110.5 275.9,1114.9 276.7,1118.4C277.4,1122.0 278.2,1126.0 277.4,1129.2C276.7,1132.4 274.5,1135.7 272.0,1137.6C269.6,1139.6 265.5,1141.1 262.8,1140.7C260.1,1140.3 257.8,1138.8 255.9,1135.3C254.0,1131.9 251.8,1124.3 251.3,1120.0Z" fill="#1670fa" />
<path d="M301.8,1280.1C301.4,1276.4 303.5,1271.3 305.9,1267.9C308.2,1264.4 312.3,1261.4 316.1,1259.7C319.9,1258.0 325.0,1256.9 328.4,1257.6C331.8,1258.3 335.2,1260.7 336.6,1263.8C337.9,1266.8 337.6,1272.3 336.6,1276.0C335.6,1279.8 333.5,1283.6 330.4,1286.3C327.4,1289.0 321.9,1291.8 318.1,1292.4C314.4,1293.1 310.6,1292.4 307.9,1290.4C305.2,1288.3 302.1,1283.9 301.8,1280.1Z" fill="#1670fa" />
<path d="M416.1,1265.8C416.4,1262.4 418.3,1257.8 421.2,1255.6C424.1,1253.3 429.4,1252.5 433.5,1252.5C437.6,1252.5 442.2,1253.7 445.8,1255.6C449.4,1257.4 453.1,1260.7 455.0,1263.8C456.9,1266.8 457.6,1270.9 457.1,1274.0C456.6,1277.1 454.9,1280.1 452.0,1282.2C449.0,1284.2 443.8,1286.1 439.7,1286.3C435.6,1286.5 430.8,1284.9 427.4,1283.2C424.0,1281.5 421.0,1279.0 419.2,1276.0C417.3,1273.1 415.8,1269.2 416.1,1265.8Z" fill="#1670fa" />
<path d="M416.9,1149.4C416.9,1150.2 416.7,1151.0 416.3,1151.7C415.9,1152.4 415.4,1153.0 414.7,1153.4C414.1,1153.8 413.3,1154.0 412.6,1154.0C411.9,1154.0 411.1,1153.8 410.4,1153.4C409.8,1153.0 409.2,1152.4 408.9,1151.7C408.5,1151.0 408.3,1150.2 408.3,1149.4C408.3,1148.6 408.5,1147.8 408.9,1147.1C409.2,1146.4 409.8,1145.8 410.4,1145.4C411.1,1145.0 411.9,1144.8 412.6,1144.8C413.3,1144.8 414.1,1145.0 414.7,1145.4C415.4,1145.8 415.9,1146.4 416.3,1147.1C416.7,1147.8 416.9,1148.6 416.9,1149.4Z" fill="#1670fa" />
<path d="M290.2,1097.7C290.5,1094.8 291.6,1091.1 293.6,1088.3C295.6,1085.5 298.8,1082.7 302.2,1081.1C305.5,1079.6 309.9,1078.8 313.8,1078.8C317.7,1078.9 322.0,1080.0 325.4,1081.6C328.8,1083.2 332.0,1085.7 334.3,1088.5C336.6,1091.2 337.9,1094.9 339.2,1098.1C340.5,1101.2 340.8,1104.6 342.1,1107.3C343.4,1110.0 344.8,1112.6 347.1,1114.3C349.4,1116.0 352.5,1117.0 355.9,1117.5C359.4,1118.1 363.7,1117.7 367.6,1117.6C371.4,1117.5 375.8,1116.9 379.2,1117.0C382.6,1117.1 385.8,1117.0 388.1,1118.2C390.3,1119.4 391.7,1121.5 392.7,1124.3C393.6,1127.2 393.5,1131.5 393.7,1135.3C393.9,1139.1 393.6,1143.5 394.0,1147.2C394.4,1151.0 394.9,1154.6 396.2,1157.6C397.6,1160.7 399.6,1163.2 402.0,1165.7C404.4,1168.1 407.8,1170.1 410.6,1172.1C413.4,1174.2 416.9,1176.1 418.8,1178.1C420.7,1180.1 422.2,1181.8 422.0,1184.0C421.9,1186.2 419.7,1188.3 417.9,1191.1C416.2,1193.8 413.3,1197.0 411.6,1200.5C409.9,1204.0 408.8,1208.1 407.5,1212.1C406.3,1216.1 405.4,1220.3 404.1,1224.4C402.8,1228.5 401.2,1232.7 399.5,1236.7C397.8,1240.7 395.7,1244.9 393.7,1248.3C391.7,1251.7 389.6,1254.9 387.5,1256.8C385.4,1258.8 383.4,1259.8 381.1,1259.9C378.7,1260.0 376.3,1258.9 373.7,1257.5C371.1,1256.1 368.6,1253.8 365.7,1251.7C362.8,1249.6 359.8,1246.9 356.5,1244.7C353.1,1242.5 349.5,1240.3 345.7,1238.6C341.9,1236.8 337.6,1235.1 333.8,1234.3C329.9,1233.4 325.7,1232.9 322.5,1233.4C319.2,1234.0 316.6,1235.7 314.1,1237.7C311.6,1239.7 309.8,1242.9 307.3,1245.2C304.8,1247.5 302.3,1249.8 299.3,1251.4C296.2,1252.9 292.5,1253.8 288.9,1254.4C285.2,1255.1 281.1,1255.1 277.2,1255.5C273.4,1255.8 269.6,1256.3 265.7,1256.3C261.9,1256.3 257.7,1256.4 254.3,1255.3C250.8,1254.2 247.6,1252.3 245.0,1249.8C242.4,1247.3 240.1,1244.0 238.5,1240.3C237.0,1236.5 235.6,1231.9 235.6,1227.5C235.6,1223.0 237.1,1218.2 238.5,1213.6C240.0,1209.1 242.2,1204.3 244.3,1200.1C246.4,1196.0 248.5,1191.7 251.1,1188.5C253.8,1185.4 256.9,1182.5 260.0,1181.2C263.1,1179.8 266.9,1179.4 269.8,1180.3C272.6,1181.2 275.2,1184.0 277.1,1186.7C279.1,1189.3 279.9,1193.4 281.5,1196.4C283.2,1199.4 284.6,1202.4 286.9,1204.6C289.2,1206.8 292.4,1208.0 295.6,1209.7C298.8,1211.3 302.6,1213.4 306.1,1214.5C309.6,1215.6 313.2,1216.8 316.9,1216.6C320.5,1216.4 324.1,1214.9 327.9,1213.3C331.8,1211.7 335.9,1209.4 339.9,1207.1C343.9,1204.9 348.3,1202.4 351.9,1199.8C355.4,1197.2 359.1,1194.7 361.3,1191.8C363.4,1188.9 364.5,1185.6 364.7,1182.2C364.8,1178.8 363.7,1174.7 362.3,1171.3C360.9,1167.9 358.6,1164.6 356.1,1161.7C353.7,1158.9 350.4,1156.5 347.6,1154.0C344.7,1151.6 341.6,1149.4 339.0,1146.9C336.5,1144.3 334.5,1141.3 332.2,1138.7C329.9,1136.1 328.0,1133.4 325.4,1131.3C322.8,1129.2 319.7,1127.8 316.5,1126.0C313.4,1124.3 309.6,1122.8 306.4,1120.8C303.3,1118.7 300.0,1116.2 297.6,1113.8C295.1,1111.3 293.0,1108.7 291.7,1106.1C290.5,1103.4 289.9,1100.7 290.2,1097.7Z" fill="#4b24b6" />
<path d="M371.0,1068.9C370.9,1066.3 372.6,1062.1 374.6,1059.8C376.6,1057.4 380.1,1055.6 383.1,1055.0C386.2,1054.4 389.8,1055.2 392.9,1056.2C395.9,1057.1 398.5,1059.3 401.3,1060.6C404.1,1062.0 406.7,1063.3 409.8,1064.1C412.9,1064.8 416.5,1065.3 420.0,1065.2C423.5,1065.2 427.3,1064.8 430.7,1063.7C434.2,1062.6 437.9,1061.1 440.8,1058.8C443.7,1056.5 446.3,1053.3 448.3,1049.9C450.4,1046.5 451.4,1042.1 453.0,1038.3C454.6,1034.5 455.7,1030.1 457.7,1027.0C459.7,1023.9 462.3,1021.1 464.9,1019.5C467.5,1017.9 470.8,1017.1 473.2,1017.5C475.7,1017.9 478.1,1019.5 479.3,1021.8C480.5,1024.0 480.8,1027.6 480.3,1031.1C479.7,1034.6 478.1,1038.8 476.2,1042.5C474.2,1046.3 471.6,1050.0 468.8,1053.6C466.0,1057.3 462.9,1060.9 459.6,1064.4C456.3,1067.9 452.7,1071.5 449.2,1074.8C445.6,1078.1 441.9,1081.3 438.4,1084.0C434.9,1086.8 431.2,1089.5 428.0,1091.4C424.8,1093.2 421.7,1094.8 419.1,1095.0C416.5,1095.1 414.4,1093.8 412.3,1092.2C410.2,1090.7 408.5,1087.7 406.8,1085.7C405.0,1083.8 403.9,1082.1 401.8,1080.6C399.8,1079.1 397.3,1077.5 394.4,1076.8C391.5,1076.2 387.6,1076.7 384.3,1076.5C381.1,1076.3 377.1,1076.9 374.9,1075.6C372.7,1074.3 371.0,1071.6 371.0,1068.9Z" fill="#4b24b6" />
<path d="M186.8,1132.3C186.5,1130.1 188.7,1127.4 190.6,1124.6C192.5,1121.8 195.5,1118.2 198.3,1115.4C201.1,1112.5 204.4,1109.5 207.5,1107.7C210.6,1105.9 214.2,1104.4 216.7,1104.6C219.3,1104.9 221.6,1106.9 222.9,1109.2C224.2,1111.5 224.7,1115.4 224.4,1118.4C224.2,1121.5 223.1,1125.1 221.3,1127.7C219.5,1130.2 216.7,1132.1 213.7,1133.8C210.6,1135.5 206.5,1137.0 202.9,1137.6C199.3,1138.3 194.8,1138.5 192.1,1137.6C189.5,1136.7 187.0,1134.4 186.8,1132.3Z" fill="#4b24b6" />
<path d="M231.3,1325.3C231.3,1321.9 233.6,1318.4 235.9,1316.0C238.3,1313.7 241.8,1312.0 245.2,1311.4C248.5,1310.9 252.9,1311.4 255.9,1313.0C259.0,1314.5 261.8,1317.6 263.6,1320.7C265.4,1323.7 266.2,1327.6 266.7,1331.4C267.2,1335.3 267.2,1339.9 266.7,1343.7C266.2,1347.5 265.1,1351.9 263.6,1354.5C262.1,1357.0 259.8,1359.1 257.5,1359.1C255.2,1359.1 252.3,1356.8 249.8,1354.5C247.2,1352.2 244.4,1348.3 242.1,1345.2C239.8,1342.2 237.7,1339.4 235.9,1336.0C234.2,1332.7 231.3,1328.6 231.3,1325.3Z" fill="#4b24b6" />
<path d="M302.2,1320.7C302.2,1317.4 304.5,1313.7 306.9,1311.5C309.2,1309.3 312.7,1307.9 316.1,1307.7C319.4,1307.4 324.0,1308.3 326.8,1310.0C329.6,1311.6 332.0,1314.6 333.0,1317.7C334.0,1320.7 334.0,1325.5 333.0,1328.4C332.0,1331.4 329.6,1334.0 326.8,1335.3C324.0,1336.6 319.4,1336.7 316.1,1336.1C312.7,1335.5 309.2,1334.0 306.9,1331.5C304.5,1328.9 302.2,1324.1 302.2,1320.7Z" fill="#4b24b6" />
<path d="M444.4,1305.4C444.9,1303.4 447.3,1300.1 449.8,1298.5C452.2,1296.8 456.2,1295.5 459.0,1295.4C461.8,1295.2 465.2,1296.3 466.7,1297.7C468.1,1299.1 468.2,1301.9 467.4,1303.8C466.7,1305.7 464.5,1307.9 462.0,1309.2C459.6,1310.5 455.4,1311.4 452.8,1311.5C450.3,1311.6 448.1,1311.0 446.7,1310.0C445.3,1309.0 443.9,1307.3 444.4,1305.4Z" fill="#4b24b6" />
<path d="M464.1,1243.6C465.6,1242.3 469.6,1241.9 473.0,1240.7C476.5,1239.4 481.3,1238.1 485.0,1236.1C488.7,1234.0 492.3,1231.4 495.4,1228.4C498.6,1225.4 501.1,1221.5 503.8,1218.0C506.5,1214.4 508.8,1210.2 511.5,1207.0C514.1,1203.8 516.8,1200.8 519.8,1198.8C522.8,1196.8 526.5,1195.1 529.6,1195.0C532.6,1194.9 535.9,1196.1 538.3,1198.3C540.7,1200.5 542.4,1204.3 543.8,1207.9C545.2,1211.5 546.0,1215.8 546.8,1219.8C547.7,1223.9 548.4,1228.1 548.9,1232.1C549.4,1236.1 550.1,1240.3 549.8,1243.7C549.5,1247.2 548.8,1250.4 547.2,1253.0C545.5,1255.5 542.9,1257.4 540.0,1259.1C537.1,1260.8 533.3,1261.7 529.9,1263.2C526.5,1264.7 522.8,1266.2 519.5,1268.1C516.2,1270.1 513.1,1272.8 509.9,1274.8C506.8,1276.8 503.8,1279.2 500.7,1280.3C497.6,1281.3 494.4,1281.9 491.5,1281.1C488.5,1280.4 485.5,1278.2 482.9,1275.7C480.4,1273.1 478.3,1269.2 476.1,1265.9C474.0,1262.6 471.9,1258.8 470.0,1255.8C468.0,1252.9 465.5,1250.2 464.5,1248.2C463.5,1246.1 462.7,1244.8 464.1,1243.6Z" fill="#4b24b6" />
<path d="M436.7,1176.8C436.7,1175.0 438.0,1172.1 439.8,1170.6C441.6,1169.1 444.4,1167.7 447.5,1167.5C450.5,1167.4 454.6,1168.9 458.2,1169.8C461.8,1170.7 465.4,1171.9 469.0,1172.9C472.6,1173.9 476.9,1174.6 479.7,1176.0C482.5,1177.4 484.6,1179.2 485.9,1181.4C487.2,1183.5 487.7,1186.5 487.4,1189.0C487.2,1191.6 486.1,1195.1 484.3,1196.7C482.5,1198.4 479.5,1199.3 476.7,1199.0C473.8,1198.8 470.5,1196.9 467.4,1195.2C464.4,1193.5 461.5,1190.8 458.2,1189.0C454.9,1187.3 450.5,1185.7 447.5,1184.4C444.4,1183.2 441.6,1182.6 439.8,1181.4C438.0,1180.1 436.7,1178.5 436.7,1176.8Z" fill="#4b24b6" />
<circle cx="255.8" cy="1023.2" r="1.6" fill="#111" stroke="none"/>
</g>
<ellipse cx="373" cy="1194.2" rx="301.6" ry="303.6" fill="none" stroke="#1c1c1c" stroke-width="3.4"/>
<rect x="30" y="1166.3" width="75.8" height="54.6" fill="#fff"/>
<rect x="339.5" y="1469" width="69.4" height="46" fill="#fff"/>
</g>
<rect x="711.1" y="879" width="36.8" height="628" fill="url(#par)" stroke="#33331a" stroke-opacity="0.6" stroke-width="2"/>
<line x1="740.9" y1="885.6" x2="746.9" y2="885.6" stroke="#2a2a18" stroke-opacity="0.75" stroke-width="1.8"/>
<text class="ss" x="761.9" y="906.1" font-size="47">2.5</text>
<line x1="740.9" y1="1028.2" x2="746.9" y2="1028.2" stroke="#2a2a18" stroke-opacity="0.75" stroke-width="1.8"/>
<text class="ss" x="761.9" y="1048.7" font-size="47">2</text>
<line x1="740.9" y1="1170.8" x2="746.9" y2="1170.8" stroke="#2a2a18" stroke-opacity="0.75" stroke-width="1.8"/>
<text class="ss" x="761.9" y="1191.3" font-size="47">1.5</text>
<line x1="740.9" y1="1313.4" x2="746.9" y2="1313.4" stroke="#2a2a18" stroke-opacity="0.75" stroke-width="1.8"/>
<text class="ss" x="761.9" y="1333.9" font-size="47">1</text>
<line x1="740.9" y1="1456" x2="746.9" y2="1456" stroke="#2a2a18" stroke-opacity="0.75" stroke-width="1.8"/>
<text class="ss" x="761.9" y="1476.5" font-size="47">0.5</text>
<g id="chart">
<clipPath id="clc"><rect x="1125.6" y="26" width="896.7" height="998.8"/></clipPath>
<g clip-path="url(#clc)">
<polyline points="1199.7,526.6 1349.5,360.5 1499.3,388.2 1649.1,443.5 1798.9,831.0 1948.7,665.0" fill="none" stroke="#4d4d4d" stroke-width="5" stroke-linejoin="round"/>
<rect x="1188.2" y="515.1" width="23" height="23" fill="#4d4d4d"/>
<rect x="1338.0" y="349.0" width="23" height="23" fill="#4d4d4d"/>
<rect x="1487.8" y="376.7" width="23" height="23" fill="#4d4d4d"/>
<rect x="1637.6" y="432.0" width="23" height="23" fill="#4d4d4d"/>
<rect x="1787.4" y="819.5" width="23" height="23" fill="#4d4d4d"/>
<rect x="1937.2" y="653.5" width="23" height="23" fill="#4d4d4d"/>
<polyline points="1199.7,609.6 1349.5,305.1 1499.3,360.5 1649.1,443.5 1798.9,858.7 1948.7,609.6" fill="none" stroke="#f83c40" stroke-width="5" stroke-linejoin="round"/>
<rect x="1188.2" y="598.1" width="23" height="23" fill="#f83c40"/>
<rect x="1338.0" y="293.6" width="23" height="23" fill="#f83c40"/>
<rect x="1487.8" y="349.0" width="23" height="23" fill="#f83c40"/>
<rect x="1637.6" y="432.0" width="23" height="23" fill="#f83c40"/>
<rect x="1787.4" y="847.2" width="23" height="23" fill="#f83c40"/>
<rect x="1937.2" y="598.1" width="23" height="23" fill="#f83c40"/>
<polyline points="1199.7,720.3 1349.5,305.1 1499.3,332.8 1649.1,415.8 1798.9,886.4 1948.7,581.9" fill="none" stroke="#0d6eea" stroke-width="5" stroke-linejoin="round"/>
<rect x="1188.2" y="708.8" width="23" height="23" fill="#0d6eea"/>
<rect x="1338.0" y="293.6" width="23" height="23" fill="#0d6eea"/>
<rect x="1487.8" y="321.3" width="23" height="23" fill="#0d6eea"/>
<rect x="1637.6" y="404.3" width="23" height="23" fill="#0d6eea"/>
<rect x="1787.4" y="874.9" width="23" height="23" fill="#0d6eea"/>
<rect x="1937.2" y="570.4" width="23" height="23" fill="#0d6eea"/>
<polyline points="1199.7,803.4 1349.5,249.8 1499.3,305.1 1649.1,415.8 1798.9,914.1 1948.7,554.2" fill="none" stroke="#12b26e" stroke-width="5" stroke-linejoin="round"/>
<rect x="1188.2" y="791.9" width="23" height="23" fill="#12b26e"/>
<rect x="1338.0" y="238.3" width="23" height="23" fill="#12b26e"/>
<rect x="1487.8" y="293.6" width="23" height="23" fill="#12b26e"/>
<rect x="1637.6" y="404.3" width="23" height="23" fill="#12b26e"/>
<rect x="1787.4" y="902.6" width="23" height="23" fill="#12b26e"/>
<rect x="1937.2" y="542.7" width="23" height="23" fill="#12b26e"/>
<polyline points="1199.7,941.8 1349.5,194.4 1499.3,277.4 1649.1,415.8 1798.9,997.1 1948.7,498.9" fill="none" stroke="#c77ded" stroke-width="5" stroke-linejoin="round"/>
<rect x="1188.2" y="930.3" width="23" height="23" fill="#c77ded"/>
<rect x="1338.0" y="182.9" width="23" height="23" fill="#c77ded"/>
<rect x="1487.8" y="265.9" width="23" height="23" fill="#c77ded"/>
<rect x="1637.6" y="404.3" width="23" height="23" fill="#c77ded"/>
<rect x="1787.4" y="985.6" width="23" height="23" fill="#c77ded"/>
<rect x="1937.2" y="487.4" width="23" height="23" fill="#c77ded"/>
<polyline points="1199.7,1024.8 1349.5,139.0 1499.3,249.8 1649.1,415.8 1798.9,1024.8 1948.7,443.5" fill="none" stroke="#eba700" stroke-width="5" stroke-linejoin="round"/>
<rect x="1188.2" y="1013.3" width="23" height="23" fill="#eba700"/>
<rect x="1338.0" y="127.5" width="23" height="23" fill="#eba700"/>
<rect x="1487.8" y="238.3" width="23" height="23" fill="#eba700"/>
<rect x="1637.6" y="404.3" width="23" height="23" fill="#eba700"/>
<rect x="1787.4" y="1013.3" width="23" height="23" fill="#eba700"/>
<rect x="1937.2" y="432.0" width="23" height="23" fill="#eba700"/>
</g>
<rect x="1125.6" y="56" width="896.7" height="968.8" fill="none" stroke="#161616" stroke-width="3.7"/>
<line x1="1199.7" y1="1024.8" x2="1199.7" y2="1008.8" stroke="#111" stroke-width="3"/>
<line x1="1349.5" y1="1024.8" x2="1349.5" y2="1008.8" stroke="#111" stroke-width="3"/>
<line x1="1499.3" y1="1024.8" x2="1499.3" y2="1008.8" stroke="#111" stroke-width="3"/>
<line x1="1649.1" y1="1024.8" x2="1649.1" y2="1008.8" stroke="#111" stroke-width="3"/>
<line x1="1798.9" y1="1024.8" x2="1798.9" y2="1008.8" stroke="#111" stroke-width="3"/>
<line x1="1948.7" y1="1024.8" x2="1948.7" y2="1008.8" stroke="#111" stroke-width="3"/>
<text class="sb" x="1107" y="1040.8" font-size="52" text-anchor="end">0</text>
<line x1="1125.6" y1="886.4" x2="1141.6" y2="886.4" stroke="#111" stroke-width="3"/>
<text class="sb" x="1107" y="902.4" font-size="52" text-anchor="end">0.05</text>
<line x1="1125.6" y1="748" x2="1141.6" y2="748" stroke="#111" stroke-width="3"/>
<text class="sb" x="1107" y="764" font-size="52" text-anchor="end">0.10</text>
<line x1="1125.6" y1="609.6" x2="1141.6" y2="609.6" stroke="#111" stroke-width="3"/>
<text class="sb" x="1107" y="625.6" font-size="52" text-anchor="end">0.15</text>
<line x1="1125.6" y1="471.2" x2="1141.6" y2="471.2" stroke="#111" stroke-width="3"/>
<text class="sb" x="1107" y="487.2" font-size="52" text-anchor="end">0.20</text>
<line x1="1125.6" y1="332.8" x2="1141.6" y2="332.8" stroke="#111" stroke-width="3"/>
<text class="sb" x="1107" y="348.8" font-size="52" text-anchor="end">0.25</text>
<line x1="1125.6" y1="194.4" x2="1141.6" y2="194.4" stroke="#111" stroke-width="3"/>
<text class="sb" x="1107" y="210.4" font-size="52" text-anchor="end">0.30</text>
<text class="sb" x="1107" y="72" font-size="52" text-anchor="end">0.35</text>
<text class="sb" font-size="52" text-anchor="middle" transform="translate(998.4,539.6) rotate(-90)">Average Schmid factor</text>
<text class="sb" font-size="52" text-anchor="middle" x="1574.7" y="1523.5">Slip/twinning system</text>
<text class="sb" font-size="51.5" text-anchor="end" transform="translate(1235.7,1083) rotate(-45)">Basal &lt;a&gt;</text>
<text class="sb" font-size="51.5" text-anchor="end" transform="translate(1385.5,1083) rotate(-45)">Prismatic &lt;a&gt;</text>
<text class="sb" font-size="51.5" text-anchor="end" transform="translate(1535.3,1083) rotate(-45)">Pyramidal &lt;a&gt;</text>
<text class="sb" font-size="51.5" text-anchor="end" transform="translate(1685.1,1083) rotate(-45)">Pyramidal &lt;c+a&gt;</text>
<text class="sb" font-size="51.5" text-anchor="end" transform="translate(1834.9,1083) rotate(-45)">Tensile twin {10-1̄2}</text>
<text class="sb" font-size="51.5" text-anchor="end" transform="translate(1984.7,1083) rotate(-45)">Contraction twin {10-11}</text>
<text class="sb" font-size="58.7" x="1221" y="111.2">Color set// <tspan fill="#4d4d4d">0%</tspan> / <tspan fill="#f83c40">20%</tspan> / <tspan fill="#0d6eea">40%</tspan></text>
<text class="sb" font-size="58.7" x="1456" y="184.2"><tspan fill="#12b26e">60%</tspan> / <tspan fill="#c77ded">80%</tspan> / <tspan fill="#eba700">100%</tspan></text>
</g>
<text class="sb" font-size="97" x="36" y="102">a</text>
<text class="sb" font-size="98.5" x="910.5" y="103.5">b</text>
<text class="sb" font-size="50" x="293" y="91.4" textLength="147.5" lengthAdjust="spacingAndGlyphs"><tspan font-weight="normal">(</tspan>0001<tspan font-weight="normal">)</tspan></text>
<text class="sr" font-size="48" x="58" y="159.5">Max:</text>
<text class="sr" font-size="48" x="56.5" y="216">10</text>
<text class="sr" font-size="48" x="58" y="666">Min:</text>
<text class="sr" font-size="48" x="58" y="722">0.14</text>
<text class="sr" font-size="48" x="31.3" y="445.5" textLength="65.9" lengthAdjust="spacingAndGlyphs">TD</text>
<text class="sr" font-size="48" x="333.5" y="747.5">RD</text>
<text class="sb" font-size="50" x="302" y="854.7" textLength="146" lengthAdjust="spacingAndGlyphs"><tspan font-weight="normal">(</tspan>1120<tspan font-weight="normal">)</tspan></text>
<rect x="378.5" y="814" width="21" height="3.4" fill="#111"/>
<text class="sr" font-size="48" x="66" y="920.4">Max:</text>
<text class="sr" font-size="48" x="66" y="976.3">2.5</text>
<text class="sr" font-size="48" x="65" y="1425.8">Min:</text>
<text class="sr" font-size="48" x="65" y="1480.8">0.32</text>
<text class="sr" font-size="48" x="37.3" y="1206.3" textLength="65.9" lengthAdjust="spacingAndGlyphs">TD</text>
<text class="sr" font-size="48" x="340" y="1506.9">RD</text>
</svg>
</body></html>
